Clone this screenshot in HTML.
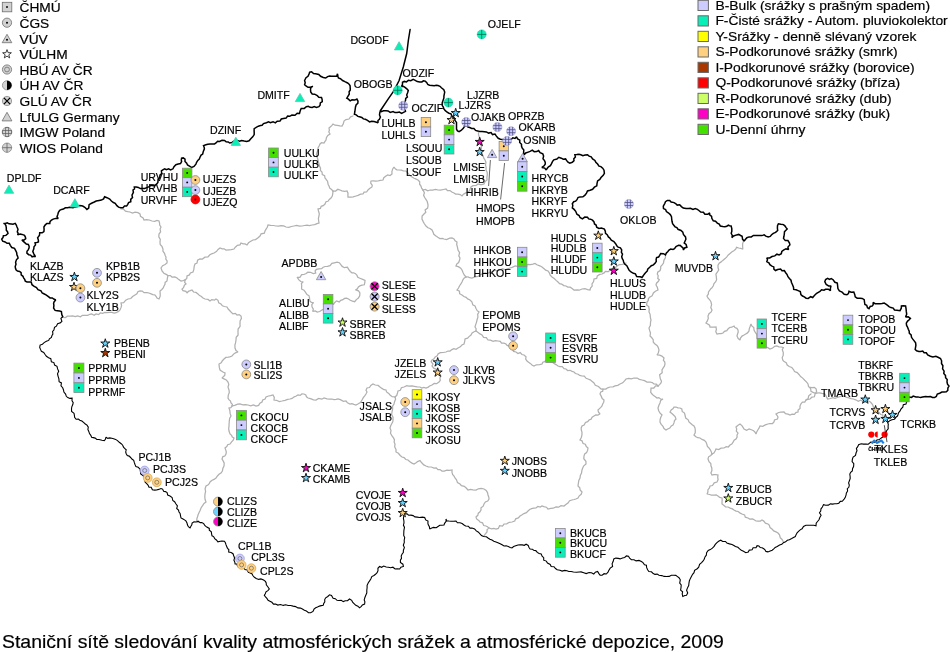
<!DOCTYPE html>
<html><head><meta charset="utf-8"><title>Staniční sítě</title>
<style>
html,body{margin:0;padding:0;background:#fff;}
svg{display:block}
text{font-family:"Liberation Sans",sans-serif;fill:#000;stroke:#000;stroke-width:0.18px;}
</style></head><body>
<svg width="950" height="652" viewBox="0 0 950 652" style="will-change:transform">
<rect width="950" height="652" fill="#fff"/>
<path d="M121.0,209.0 L123.4,209.1 L125.5,211.1 L127.6,211.7 L130.0,212.0 L132.4,213.1 L135.1,212.2 L138.0,212.7 L140.0,214.0 L140.5,216.4 L143.1,217.9 L144.0,220.0 L146.5,219.7 L149.3,220.0 L152.0,221.0 L154.7,221.3 L157.0,220.4 L159.0,221.0 L159.6,223.3 L159.7,225.0 L161.0,227.0 L160.1,229.0 L160.6,231.9 L159.0,234.0 L158.8,236.8 L160.3,239.5 L160.0,242.0 L160.2,244.5 L162.1,246.7 L163.0,249.0 L162.9,251.1 L164.5,253.3 L165.1,255.2 L166.0,257.0 L165.8,259.1 L167.1,261.0 L167.0,263.0 L165.1,264.5 L162.6,265.7 L161.0,268.0 L161.6,269.6 L162.0,271.0 L163.9,273.2 L165.7,274.1 L168.0,275.5" fill="none" stroke="#b0b0b0" stroke-width="1.25" stroke-linejoin="miter" stroke-miterlimit="1.6" stroke-linecap="round"/>
<path d="M168.0,275.5 L167.4,278.0 L167.0,281.0 L165.1,282.4 L165.0,284.4 L164.0,286.0 L163.2,287.9 L161.6,289.7 L160.0,291.0 L160.2,294.1 L160.2,296.2 L159.0,299.0 L157.0,298.1 L156.2,296.5 L155.0,295.0 L152.8,294.6 L151.1,293.9 L149.0,293.0 L146.9,292.7 L144.1,292.7 L142.2,291.1 L140.0,291.0 L137.9,291.7 L136.9,293.8 L135.0,295.0 L132.6,296.6 L130.8,298.5 L128.0,299.0 L125.7,300.2 L123.7,302.6 L121.0,303.0 L121.6,305.5 L121.1,307.4 L120.0,310.0 L118.5,311.4 L116.2,312.7 L114.0,313.0 L111.9,312.4 L109.5,312.4 L107.0,312.6 L105.0,312.5 L102.6,313.3 L100.3,312.9 L98.7,314.6 L96.0,314.0 L94.2,315.3 L91.5,313.9 L89.9,314.3 L87.7,315.4 L85.0,315.3 L82.4,315.3 L80.5,316.8 L77.5,315.8 L75.2,316.6 L72.7,316.0 L70.4,316.2 L67.3,316.2 L65.5,317.6 L62.7,317.5" fill="none" stroke="#b0b0b0" stroke-width="1.25" stroke-linejoin="miter" stroke-miterlimit="1.6" stroke-linecap="round"/>
<path d="M168.0,275.5 L170.3,275.6 L172.0,277.0 L174.8,276.9 L177.0,278.0 L178.8,279.6 L181.0,281.0 L183.1,280.7 L185.0,280.0" fill="none" stroke="#b0b0b0" stroke-width="1.25" stroke-linejoin="miter" stroke-miterlimit="1.6" stroke-linecap="round"/>
<path d="M185.0,280.0 L186.8,278.5 L187.0,276.0 L189.4,274.9 L190.4,273.0 L193.0,272.0 L193.8,269.7 L194.2,266.3 L195.0,264.0 L197.0,263.1 L197.6,260.2 L200.0,259.0 L202.4,259.1 L204.9,257.2 L208.0,257.0 L209.6,255.0 L211.6,253.8 L214.0,253.0 L216.4,251.6 L218.1,249.4 L220.0,248.0 L222.2,248.9 L224.1,248.8 L226.0,250.0 L229.0,249.8 L231.3,249.6 L234.0,249.0 L235.3,247.2 L237.4,245.3 L240.0,244.9 L241.0,243.0 L243.1,243.8 L245.1,243.9 L247.0,245.0 L248.5,242.8 L250.4,241.5 L253.0,240.0 L255.5,239.6 L258.1,237.8 L260.0,236.0 L261.1,233.8 L264.3,233.1 L265.0,231.0 L266.2,228.9 L267.3,227.3 L268.0,225.0 L270.7,225.4 L273.6,225.5 L276.0,226.0 L278.7,226.2 L281.0,225.6 L283.7,225.9 L286.0,227.0 L288.8,227.4 L291.4,226.5 L294.0,226.0 L296.6,225.5 L299.5,226.2 L302.0,226.0 L304.5,225.5 L307.0,225.2 L309.4,225.6 L312.0,225.0 L314.7,224.6 L317.0,223.6 L319.0,223.0 L318.6,220.4 L318.4,218.4 L319.0,216.0 L319.3,213.9 L318.5,211.0 L318.0,209.0 L320.4,208.4 L321.2,206.3 L323.2,205.6 L325.0,204.0 L326.0,201.7 L328.0,201.3 L329.3,199.5 L331.0,198.0 L332.3,196.0 L332.8,193.3 L333.0,191.0" fill="none" stroke="#b0b0b0" stroke-width="1.25" stroke-linejoin="miter" stroke-miterlimit="1.6" stroke-linecap="round"/>
<path d="M185.0,280.0 L184.7,282.4 L186.0,284.0 L184.4,285.2 L183.5,287.7 L182.0,289.0 L183.0,290.6 L185.9,291.3 L187.0,293.0 L188.4,291.3 L190.2,290.7 L192.0,290.0 L193.6,292.0 L196.0,292.4 L198.0,294.0 L199.6,295.6 L201.4,296.5 L203.0,298.0 L205.1,299.0 L208.0,299.4 L210.0,301.0 L211.8,299.6 L214.4,300.2 L216.0,299.0 L218.0,300.3 L218.7,302.9 L221.0,304.0 L222.4,305.8 L224.4,306.5 L227.0,307.0 L228.2,309.0 L229.6,310.5 L231.0,312.0 L232.9,313.9 L235.3,313.4 L237.0,315.0 L239.2,314.6 L241.0,316.0 L241.4,318.5 L240.1,321.0 L240.0,324.0 L240.1,326.4 L238.1,329.0 L238.0,332.0 L238.1,335.0 L236.2,337.3 L236.0,340.0 L235.6,342.7 L234.9,345.1 L235.0,348.0 L236.0,350.5 L238.0,352.0 L235.4,352.9 L233.6,354.1 L232.0,356.0 L229.8,356.8 L228.2,357.2 L225.9,357.4 L224.0,359.0 L222.4,360.7 L221.2,362.9 L219.0,364.0 L219.2,366.2 L219.4,367.9 L220.0,370.0 L221.8,371.2 L223.4,372.3 L225.0,373.0 L224.8,375.3 L223.6,376.5 L222.0,378.0 L224.0,378.9 L226.3,379.9 L228.0,382.0 L228.8,384.4 L228.0,387.1 L229.0,390.0 L229.3,392.4 L228.3,395.1 L228.0,398.0 L228.9,399.6 L230.5,401.0 L231.0,403.0 L232.4,404.4 L232.0,406.0" fill="none" stroke="#b0b0b0" stroke-width="1.25" stroke-linejoin="miter" stroke-miterlimit="1.6" stroke-linecap="round"/>
<path d="M353.0,116.0 L350.6,116.8 L349.0,119.0 L345.9,119.6 L344.0,121.0 L343.3,123.8 L342.0,126.0 L339.9,125.9 L337.3,125.3 L335.0,125.2 L333.0,124.0 L332.0,125.4 L330.5,126.7 L329.0,128.0 L329.4,130.2 L328.8,132.0 L330.0,134.0 L327.8,135.5 L326.4,137.7 L326.0,140.0 L325.0,141.4 L324.0,143.0 L321.5,142.7 L320.0,144.0 L319.2,145.7 L318.0,148.0 L318.0,150.0 L316.9,152.6 L316.4,154.7 L317.0,157.0 L317.9,159.3 L318.4,161.9 L319.0,164.0 L319.6,166.3 L320.5,168.1 L320.4,170.5 L322.0,172.0 L322.3,174.5 L324.6,175.6 L325.0,178.0 L326.3,179.7 L327.6,181.4 L328.1,184.2 L329.0,186.0 L329.9,188.4 L331.3,189.2 L333.0,191.0" fill="none" stroke="#b0b0b0" stroke-width="1.25" stroke-linejoin="miter" stroke-miterlimit="1.6" stroke-linecap="round"/>
<path d="M333.0,191.0 L335.7,191.0 L337.8,189.3 L340.0,190.0 L341.9,190.9 L344.8,191.3 L347.0,191.0 L348.0,193.2 L347.9,194.9 L348.0,197.0 L350.9,197.0 L353.2,196.8 L356.0,196.0 L358.1,195.4 L360.5,194.2 L363.0,194.0 L364.1,192.1 L366.6,192.0 L368.0,190.0 L369.6,188.6 L372.0,187.0 L372.2,185.2 L370.7,183.0 L371.0,181.0 L373.4,180.9 L375.7,181.2 L378.0,181.0 L380.2,180.4 L383.0,180.0 L383.8,177.7 L386.0,176.0 L387.7,174.9 L390.1,175.5 L392.0,174.0 L391.9,171.6 L392.7,168.9 L394.0,167.0 L395.3,168.9 L396.9,169.8 L399.0,170.0 L401.3,170.2 L403.4,170.9 L406.0,171.0 L407.4,172.5 L408.9,174.4 L410.1,175.6 L412.0,177.0 L414.1,178.2 L415.7,178.9 L418.0,180.0 L419.7,181.7 L419.6,184.2 L421.0,186.0 L421.6,188.2 L423.0,190.0" fill="none" stroke="#b0b0b0" stroke-width="1.25" stroke-linejoin="miter" stroke-miterlimit="1.6" stroke-linecap="round"/>
<path d="M423.0,190.0 L425.4,189.5 L427.8,190.9 L430.0,190.0 L432.5,190.0 L435.7,189.3 L438.0,190.0 L440.5,190.2 L443.5,189.5 L446.0,189.0 L447.5,190.7 L450.0,190.6 L452.2,192.3 L454.0,193.0 L455.6,194.1 L457.8,194.2 L460.2,194.6 L462.0,196.0 L463.5,194.2 L465.7,192.9 L468.0,192.0 L469.5,190.8 L470.2,188.8 L471.0,187.0 L473.0,185.7 L476.1,185.4 L478.0,184.0 L480.2,184.5 L481.9,184.5 L484.0,184.0 L485.1,181.6 L487.0,180.0 L486.9,177.3 L487.3,174.7 L487.2,172.3 L486.0,170.0 L486.1,167.2 L485.5,164.8 L486.0,162.4 L485.0,160.0 L483.8,158.2 L483.2,155.9 L482.0,154.0 L481.5,151.6 L481.4,148.8 L481.3,146.0 L480.0,144.0 L478.7,141.9 L479.9,139.4 L479.4,137.3 L478.5,134.7 L478.5,132.6" fill="none" stroke="#b0b0b0" stroke-width="1.25" stroke-linejoin="miter" stroke-miterlimit="1.6" stroke-linecap="round"/>
<path d="M423.0,190.0 L424.4,192.7 L423.6,195.4 L425.0,198.0 L426.1,199.7 L427.2,201.5 L427.9,204.0 L428.0,206.0 L427.6,208.1 L425.1,209.9 L425.8,212.2 L424.0,214.0 L422.1,216.1 L422.0,219.0 L423.2,221.6 L424.2,223.5 L426.0,226.0 L427.9,227.8 L430.0,228.5 L432.0,230.0 L433.2,232.5 L433.8,234.3 L436.0,236.0 L437.8,237.2 L439.9,238.5 L442.3,238.3 L444.0,239.0 L446.5,239.5 L449.7,238.1 L452.0,238.0 L454.0,238.9 L455.1,240.8 L457.0,242.0 L456.7,244.5 L457.5,247.4 L458.0,250.0 L459.6,252.7 L458.8,255.8 L460.0,258.0 L459.5,260.3 L458.6,262.5 L456.7,264.1 L456.0,266.0 L458.3,266.6 L460.7,268.1 L462.0,270.0 L462.9,272.2 L464.2,274.9 L466.0,277.0" fill="none" stroke="#b0b0b0" stroke-width="1.25" stroke-linejoin="miter" stroke-miterlimit="1.6" stroke-linecap="round"/>
<path d="M466.0,277.0 L468.0,276.9 L469.7,277.7 L472.0,278.0 L474.3,277.2 L476.1,276.6 L478.2,276.3 L480.0,275.0 L482.6,273.7 L485.1,272.8 L487.8,273.5 L490.0,272.0 L492.2,271.6 L495.1,270.3 L497.7,270.9 L500.0,270.0 L502.5,268.8 L505.5,269.9 L507.5,268.8 L510.0,268.0 L512.2,267.4 L515.2,266.0 L517.4,266.3 L520.0,266.0 L523.0,265.4 L525.6,265.8 L528.0,264.5 L530.4,264.7 L532.9,264.1 L535.0,263.5 L536.9,264.8 L539.8,265.8 L542.0,267.0 L544.1,268.8 L545.6,270.1 L548.0,271.0 L549.5,273.1 L550.2,275.2 L552.0,277.0 L554.2,278.6 L556.1,280.4 L558.0,282.0 L559.6,283.6 L561.7,284.1 L563.8,285.6 L566.0,286.0 L567.8,287.1 L570.2,287.2 L572.4,288.7 L574.0,290.0 L577.0,289.8 L579.3,290.2 L582.0,289.0 L584.9,288.7 L587.6,289.6 L590.0,290.0 L590.5,288.1 L592.2,286.1 L592.0,284.0 L593.6,281.6 L594.0,279.0 L596.7,278.4 L597.3,275.9 L599.7,274.4 L602.0,274.0 L604.1,272.9 L605.4,271.4 L608.4,271.6 L610.0,270.0 L611.5,268.5 L614.5,268.4 L616.0,267.0 L618.0,265.3 L619.6,264.7 L622.0,264.5 L624.3,263.9 L626.0,263.0" fill="none" stroke="#b0b0b0" stroke-width="1.25" stroke-linejoin="miter" stroke-miterlimit="1.6" stroke-linecap="round"/>
<path d="M466.0,277.0 L464.0,278.1 L462.9,279.8 L462.0,282.0 L460.9,283.9 L459.6,285.7 L458.5,288.0 L457.0,290.0 L459.5,291.2 L459.6,293.7 L462.0,295.0 L463.9,296.5 L466.1,297.4 L467.7,298.9 L470.0,300.0 L471.9,301.8 L472.8,304.9 L475.0,306.0 L475.9,308.3 L477.2,310.7 L479.0,312.0 L477.7,314.2 L477.9,317.2 L477.0,320.0 L476.4,322.6 L475.7,324.6 L475.0,327.0 L476.1,328.6 L476.0,331.0" fill="none" stroke="#b0b0b0" stroke-width="1.25" stroke-linejoin="miter" stroke-miterlimit="1.6" stroke-linecap="round"/>
<path d="M476.0,331.0 L474.1,331.7 L472.1,333.0 L471.0,335.0 L469.0,336.6 L467.6,338.1 L465.0,339.0 L464.7,341.3 L464.0,344.0 L461.9,345.0 L460.3,346.8 L458.0,348.0 L456.1,349.3 L453.8,348.7 L451.9,349.6 L450.0,351.0 L448.0,351.0 L446.0,352.0 L443.4,352.5 L440.3,352.7 L438.0,354.0 L437.2,355.9 L435.2,356.9 L433.7,359.1 L432.0,360.0 L431.1,361.7 L433.0,364.1 L432.0,366.0 L433.7,368.2 L435.9,369.1 L438.0,370.0 L439.0,372.0 L439.2,374.1 L441.0,376.0 L439.9,378.0 L440.3,380.4 L439.0,382.0 L436.6,383.7 L434.2,383.5 L432.0,385.0 L429.6,386.0 L428.3,387.1 L426.0,388.0 L423.8,387.3 L421.7,388.0 L420.0,387.0 L417.2,386.9 L414.3,386.3 L412.0,386.0 L408.9,386.2 L406.8,385.7 L404.0,387.0 L401.4,387.7 L400.3,390.3 L398.0,391.0 L397.5,392.9 L396.8,395.3 L395.0,397.0" fill="none" stroke="#b0b0b0" stroke-width="1.25" stroke-linejoin="miter" stroke-miterlimit="1.6" stroke-linecap="round"/>
<path d="M476.0,331.0 L478.1,332.4 L480.0,333.9 L482.0,335.0 L483.6,337.4 L486.3,337.7 L488.0,340.0 L490.4,340.2 L493.1,341.4 L495.4,340.7 L498.0,341.0 L500.3,341.3 L501.5,343.2 L503.9,343.1 L506.0,344.0 L507.1,345.4 L509.4,346.1 L510.0,348.0 L512.3,349.1 L513.6,351.4 L516.0,352.0 L517.9,353.6 L520.2,352.6 L521.9,354.5 L524.0,355.0 L526.0,356.7 L525.7,359.1 L527.0,361.0 L528.6,362.2 L530.3,363.4 L532.3,365.2 L534.0,366.0 L536.3,364.8 L539.7,364.7 L542.0,364.0 L542.8,362.2 L544.7,361.6 L546.0,360.0 L548.4,359.9 L550.0,361.6 L552.0,362.0 L553.7,363.3 L556.0,364.6 L558.0,366.0 L559.8,366.7 L562.3,366.7 L564.0,368.7 L566.0,369.0 L567.6,370.5 L570.0,370.3 L572.1,371.3 L574.0,372.0 L575.4,373.5 L578.1,374.2 L579.7,375.4 L582.0,376.0 L584.3,376.2 L586.1,378.3 L588.0,379.0 L590.2,379.8 L591.9,381.3 L594.0,383.0 L595.3,385.3 L598.4,386.5 L600.0,388.0 L601.2,389.0 L603.0,389.0 L605.8,389.1 L607.7,387.8 L610.0,387.0 L613.0,386.8 L615.0,385.9 L617.8,385.4 L620.0,384.0 L622.7,382.8 L624.5,380.8 L626.0,379.0 L628.7,378.5 L631.3,378.8 L634.0,378.0 L637.1,378.0 L639.3,379.4 L642.0,380.0 L644.5,380.7 L647.0,382.0 L650.0,382.0 L652.3,382.6 L653.9,383.9 L656.3,384.2 L658.0,386.0" fill="none" stroke="#b0b0b0" stroke-width="1.25" stroke-linejoin="miter" stroke-miterlimit="1.6" stroke-linecap="round"/>
<path d="M603.0,389.0 L602.7,391.3 L600.8,391.9 L600.0,394.0 L601.1,395.9 L602.2,398.6 L604.0,400.0 L603.7,402.2 L602.7,403.9 L602.0,406.0 L600.8,407.4 L599.2,408.9 L598.0,410.0 L598.4,411.9 L600.0,414.0 L597.8,415.0 L595.8,414.9 L594.0,416.0 L592.1,417.2 L591.1,419.2 L589.0,420.0 L587.7,421.7 L585.5,422.5 L584.1,425.1 L582.0,426.0 L581.2,427.9 L581.3,430.2 L582.0,432.0 L581.9,435.2 L581.3,437.5 L580.0,440.0 L582.0,440.8 L583.1,443.6 L585.3,444.2 L586.3,446.6 L588.0,448.0 L587.6,450.4 L586.6,452.6 L584.7,453.9 L584.0,456.0 L583.8,458.7 L585.9,461.3 L586.0,464.0 L583.8,465.8 L582.8,467.7 L582.0,470.0 L581.5,473.0 L580.3,475.6 L580.0,478.0 L578.8,480.5 L578.4,483.0 L578.0,486.0 L579.8,487.9 L580.1,489.9 L582.0,492.0 L581.2,494.3 L579.3,495.8 L578.0,498.0 L575.8,499.0 L574.1,499.5 L572.0,500.0 L569.6,500.7 L568.0,503.0 L566.2,504.3 L564.0,506.0 L561.0,505.7 L558.6,507.2 L556.0,507.0 L553.2,508.2 L550.8,508.3 L548.0,509.0 L546.4,507.2 L543.8,506.7 L542.0,506.0 L540.2,507.1 L537.8,506.5 L536.0,508.0 L533.7,508.1 L531.6,508.7 L529.7,509.5 L528.0,511.0 L526.4,512.7 L523.9,513.6 L522.1,514.8 L520.0,516.0 L518.3,517.9 L515.7,518.8 L514.7,521.1 L512.0,522.0 L509.3,522.3 L506.7,523.8 L504.0,524.0 L502.5,526.0 L499.6,525.7 L498.3,528.4 L496.0,529.0 L493.8,528.5 L491.6,528.9 L489.0,528.0" fill="none" stroke="#b0b0b0" stroke-width="1.25" stroke-linejoin="miter" stroke-miterlimit="1.6" stroke-linecap="round"/>
<path d="M665.5,255.6 L665.4,257.9 L663.9,260.3 L663.5,263.1 L662.4,264.7 L660.7,266.5 L660.7,268.7 L660.1,270.5 L657.7,272.2 L657.3,274.2 L658.2,275.7 L657.8,278.4 L659.3,279.7 L658.4,281.3 L656.5,283.2 L656.0,285.0 L657.3,287.3 L658.0,290.0 L655.4,291.3 L653.4,292.9 L652.1,295.9 L650.0,297.0 L648.4,298.5 L648.3,300.4 L647.0,302.0 L646.6,305.0 L648.7,306.5 L649.2,309.5 L649.0,312.0 L650.1,314.3 L650.4,317.7 L651.0,320.0 L650.5,322.3 L650.4,325.3 L649.0,328.0 L649.6,330.4 L650.5,333.1 L650.0,336.0 L651.6,337.5 L653.2,339.6 L653.3,342.2 L655.0,344.0 L657.0,345.5 L658.2,347.3 L659.0,350.0 L658.3,353.0 L657.0,355.0 L659.7,355.2 L661.9,356.1 L664.0,358.0 L663.4,360.4 L664.7,361.8 L665.0,364.0 L664.4,366.2 L663.2,367.9 L662.0,370.0 L662.2,372.8 L659.6,374.7 L660.0,377.0 L660.3,378.9 L661.5,381.2 L661.0,383.0 L659.8,384.4 L658.0,386.0" fill="none" stroke="#b0b0b0" stroke-width="1.25" stroke-linejoin="miter" stroke-miterlimit="1.6" stroke-linecap="round"/>
<path d="M658.0,386.0 L655.7,385.8 L653.8,388.0 L651.0,388.0 L650.9,390.3 L650.7,392.3 L652.0,394.0 L653.6,395.6 L655.4,396.7 L657.0,398.0 L658.8,397.6 L661.1,399.4 L663.0,399.0 L660.6,400.6 L660.0,403.0 L658.9,405.2 L658.0,408.0 L658.7,410.7 L660.1,413.2 L662.0,415.0 L660.8,417.3 L660.1,419.5 L660.0,422.0 L661.2,424.3 L663.0,426.4 L664.0,428.6 L666.0,430.0 L667.7,429.0 L669.8,428.1 L671.3,425.9 L673.0,425.0 L674.0,422.9 L674.5,420.6 L676.0,419.0 L675.1,416.6 L673.5,415.0 L671.9,413.5 L670.0,412.0 L671.2,409.9 L673.1,408.6 L674.0,407.0 L675.9,407.0 L678.0,407.8 L680.0,408.0 L681.8,409.0 L682.2,411.4 L684.5,413.1 L685.0,415.0 L685.7,418.1 L688.2,419.8 L689.0,422.0 L690.8,423.5 L692.5,424.9 L693.8,425.8 L695.0,428.0 L695.3,430.5 L695.2,432.9 L694.0,435.0 L695.9,436.7 L697.8,437.7 L700.0,438.0 L702.0,439.4 L704.3,440.3 L706.0,442.0 L706.8,444.1 L707.4,446.5 L709.0,448.0 L710.5,450.1 L711.3,451.9 L712.0,454.0" fill="none" stroke="#b0b0b0" stroke-width="1.25" stroke-linejoin="miter" stroke-miterlimit="1.6" stroke-linecap="round"/>
<path d="M743.5,241.1 L742.6,243.9 L742.6,246.1 L742.8,249.3 L740.7,248.3 L738.7,248.0 L736.6,247.3 L735.6,249.3 L733.8,250.7 L731.7,252.1 L730.1,253.4 L728.3,254.9 L726.6,257.1 L725.1,258.6 L722.8,260.4 L721.1,261.9 L719.2,263.1 L718.0,265.2 L718.0,267.6 L718.7,270.0 L717.5,271.8 L715.9,274.2 L716.3,276.7 L716.6,279.7 L715.7,281.7 L714.0,283.5 L713.3,285.8 L712.0,287.8 L710.8,288.7 L710.0,290.0 L708.5,291.9 L708.3,294.2 L707.0,296.0 L707.9,297.9 L709.7,299.8 L711.0,302.0 L711.6,304.6 L710.8,307.6 L712.0,310.0 L711.2,311.9 L709.0,313.7 L708.0,316.0 L708.3,318.4 L707.2,321.2 L706.0,323.0 L707.7,324.0 L709.5,325.2 L710.0,327.0 L711.7,327.0 L714.2,327.2 L716.0,327.0 L716.4,329.4 L715.8,331.7 L717.0,334.0 L719.2,333.7 L721.1,333.7 L723.0,333.0 L724.5,331.4 L726.8,330.7 L728.0,329.0 L729.6,327.5 L731.8,327.2 L734.0,326.0 L734.9,327.6 L736.9,328.3 L738.0,330.0 L738.2,332.3 L737.6,333.8 L737.0,336.0 L738.2,338.5 L740.0,340.0 L740.5,338.0 L742.0,336.1 L744.0,335.0 L745.7,334.0 L747.5,332.9 L749.0,331.0 L749.3,328.6 L750.2,326.3 L751.0,324.0 L751.8,325.9 L753.8,327.5 L754.0,330.0 L755.0,331.9 L756.4,333.9 L756.9,335.5 L757.0,338.0 L758.4,339.7 L760.3,341.2 L760.9,343.3 L762.0,345.0 L764.0,345.9 L766.0,346.8 L768.2,347.9 L770.0,349.0 L772.6,348.0 L774.7,346.3 L776.8,345.9 L778.9,346.9 L781.4,347.0 L783.4,347.6 L782.3,349.7 L783.3,352.6 L783.2,355.4 L782.2,357.6 L782.8,360.2 L784.1,361.6 L786.2,362.7 L787.2,365.1 L789.2,366.5 L791.8,367.5 L793.5,369.5 L794.5,371.5 L797.2,372.6 L799.2,374.7 L800.6,376.6 L802.7,378.1 L804.7,380.2 L806.4,381.8 L808.0,383.9 L808.5,386.4 L810.6,388.5 L811.0,391.4 L813.1,392.4 L814.8,393.0 L817.0,393.0" fill="none" stroke="#b0b0b0" stroke-width="1.25" stroke-linejoin="miter" stroke-miterlimit="1.6" stroke-linecap="round"/>
<path d="M817.0,393.0 L819.4,392.8 L821.9,393.4 L824.7,393.9 L825.7,395.3 L826.7,397.4 L827.7,399.1 L830.4,398.5 L832.9,397.6 L835.1,398.3 L837.3,397.5 L839.8,396.6 L842.4,396.1 L844.7,395.7 L846.3,397.4 L848.3,397.6 L851.0,398.7 L853.3,399.0 L855.7,399.8 L858.3,401.2 L860.5,400.1 L863.1,401.3 L865.5,402.3 L867.8,400.8 L870.4,402.0 L871.7,403.5 L872.8,405.1 L873.4,407.2 L875.8,408.9 L877.8,410.1 L879.1,412.8 L880.7,414.5 L882.7,414.9 L883.2,417.6 L885.2,418.2 L886.5,419.7 L887.4,421.9" fill="none" stroke="#b0b0b0" stroke-width="1.25" stroke-linejoin="miter" stroke-miterlimit="1.6" stroke-linecap="round"/>
<path d="M810.0,387.3 L812.0,387.7 L814.4,387.3 L816.2,389.1 L816.6,391.7 L815.1,393.9 L814.4,396.8 L811.8,397.2 L810.0,399.0 L807.9,399.5 L806.0,400.0" fill="none" stroke="#b0b0b0" stroke-width="1.25" stroke-linejoin="miter" stroke-miterlimit="1.6" stroke-linecap="round"/>
<path d="M712.0,454.0 L713.9,453.0 L715.1,451.0 L716.0,449.0 L718.8,449.6 L721.0,448.2 L724.0,448.0 L726.2,446.7 L728.3,447.0 L730.0,445.0 L731.8,444.1 L733.1,442.2 L734.1,440.2 L736.0,439.0 L737.1,437.0 L737.0,435.1 L738.0,433.0 L736.3,431.1 L736.7,429.0 L736.0,427.0 L737.7,425.5 L740.0,424.0 L741.9,425.6 L742.9,427.2 L744.0,429.0 L746.6,430.2 L749.1,429.0 L752.0,430.0 L753.6,430.7 L755.0,432.1 L756.0,434.0 L756.7,431.9 L757.8,430.0 L759.0,428.2 L760.0,426.0 L762.7,426.3 L765.3,424.9 L768.0,424.0 L769.7,423.5 L772.5,423.5 L774.0,422.0 L774.5,419.9 L777.4,419.1 L778.0,417.0 L777.0,415.3 L776.0,414.0 L778.7,412.5 L781.0,412.1 L784.0,412.0 L785.5,413.7 L788.0,414.1 L790.0,415.0 L792.1,414.1 L794.4,414.3 L796.1,412.4 L798.0,412.0 L798.1,410.1 L800.0,408.4 L800.0,406.0 L801.0,403.8 L802.4,402.2 L804.8,402.1 L806.0,400.0 L808.2,398.4 L808.7,395.8 L811.0,394.0" fill="none" stroke="#b0b0b0" stroke-width="1.25" stroke-linejoin="miter" stroke-miterlimit="1.6" stroke-linecap="round"/>
<path d="M712.0,454.0 L710.8,455.5 L708.6,456.8 L708.0,459.0 L709.0,461.7 L710.8,463.5 L711.0,466.0 L711.8,468.0 L711.9,470.6 L710.9,473.0 L712.0,475.0 L713.8,474.6 L715.8,474.6 L718.0,475.0 L717.7,477.3 L718.1,479.6 L717.0,482.0 L714.2,482.8 L712.5,485.5 L710.0,486.0 L709.4,488.0 L707.9,489.9 L707.9,492.0 L707.0,494.0 L709.6,494.5 L711.3,495.0 L714.0,495.0 L716.2,494.8 L718.3,496.2 L719.7,497.4 L722.0,498.0 L722.2,500.0 L722.0,501.9 L722.0,504.0 L723.7,505.3 L725.5,506.8 L728.0,507.0 L730.2,508.1 L732.4,508.9 L734.0,510.0 L736.0,511.1 L738.1,511.5 L740.2,513.1 L742.0,514.0 L744.6,514.9 L745.3,517.2 L748.0,518.0 L749.7,519.0 L752.6,518.9 L754.1,519.8 L756.0,521.0 L758.1,521.1 L760.4,521.1 L762.0,520.0 L763.8,521.1 L765.4,523.1 L768.0,524.0 L769.4,525.4 L770.0,527.6 L772.0,529.0 L773.7,530.9 L776.0,531.9 L778.0,533.0 L779.5,534.9 L780.3,537.8 L782.1,539.5 L783.4,542.0" fill="none" stroke="#b0b0b0" stroke-width="1.25" stroke-linejoin="miter" stroke-miterlimit="1.6" stroke-linecap="round"/>
<path d="M232.0,406.0 L230.9,407.7 L229.0,408.0 L229.9,410.9 L230.1,413.4 L231.0,416.0 L229.7,418.2 L229.3,420.8 L229.1,423.8 L229.0,426.0 L228.7,428.8 L229.0,431.0 L230.0,434.0 L231.6,435.4 L232.3,437.0 L234.0,438.0 L233.2,440.2 L231.6,441.8 L230.0,444.0 L227.7,444.7 L226.8,446.5 L225.0,448.0 L225.7,449.9 L226.3,451.8 L226.0,454.0 L224.8,456.0 L222.9,456.6 L222.0,459.0 L223.4,461.4 L224.2,463.2 L224.0,466.0 L222.9,468.3 L222.4,471.1 L221.0,473.0 L219.3,474.1 L217.4,476.0 L216.0,478.0 L214.0,479.4 L211.7,480.5 L210.0,482.0 L209.2,483.7 L207.9,485.0 L206.0,486.0 L205.1,488.9 L205.6,491.5 L205.0,494.0 L204.8,497.0 L205.1,499.5 L206.0,502.0 L204.0,503.5 L202.6,505.7 L201.0,508.0 L200.2,510.3 L199.2,512.3 L198.0,515.0 L197.6,516.6 L197.0,518.2 L196.7,520.7 L198.0,522.5" fill="none" stroke="#b0b0b0" stroke-width="1.25" stroke-linejoin="miter" stroke-miterlimit="1.6" stroke-linecap="round"/>
<path d="M232.0,406.0 L234.7,405.3 L237.6,404.2 L240.0,404.0 L242.8,404.8 L245.6,404.6 L248.0,405.0 L250.7,405.8 L253.4,404.9 L256.0,406.0 L258.6,405.4 L259.9,403.1 L262.0,402.0 L262.7,400.0 L265.1,399.0 L266.0,397.0 L268.6,396.0 L270.6,395.7 L273.0,395.0 L274.3,397.4 L274.0,400.0 L276.5,400.3 L279.3,401.5 L282.0,401.0 L285.0,400.3 L287.7,399.4 L290.0,399.0 L292.1,398.4 L294.2,396.8 L295.8,396.3 L298.0,395.0 L300.1,395.4 L301.9,393.9 L304.0,394.0 L305.8,395.0 L306.5,396.8 L308.0,398.0 L310.5,398.6 L313.5,399.8 L316.0,400.0 L318.6,398.4 L321.9,399.2 L324.0,398.0 L327.0,398.9 L329.6,399.0 L332.0,399.0 L333.9,399.5 L336.1,399.4 L338.0,399.0 L340.4,399.7 L343.4,401.3 L346.0,401.0 L347.5,402.8 L350.0,404.0 L351.9,403.6 L353.9,404.4 L356.0,405.0 L358.3,403.8 L360.4,402.6 L362.0,400.0 L363.3,397.7 L364.7,395.9 L366.0,394.0 L367.0,392.0 L366.0,390.2 L367.0,388.0 L369.5,387.5 L370.8,385.5 L373.0,384.0 L375.2,385.0 L378.1,385.4 L380.0,387.0 L381.9,388.4 L384.0,389.7 L386.0,390.0 L386.6,391.9 L388.7,393.4 L390.0,395.0 L392.2,396.7 L395.0,397.0" fill="none" stroke="#b0b0b0" stroke-width="1.25" stroke-linejoin="miter" stroke-miterlimit="1.6" stroke-linecap="round"/>
<path d="M395.0,397.0 L395.6,399.2 L394.6,401.4 L394.0,404.0 L392.6,406.1 L392.6,409.2 L392.0,412.0 L391.6,414.5 L393.0,417.2 L393.0,420.0 L392.8,421.9 L391.7,423.8 L390.7,425.7 L390.0,428.0 L391.0,430.5 L390.5,433.2 L392.0,436.0 L393.5,437.9 L394.5,439.9 L394.1,441.9 L395.0,444.0 L394.7,447.0 L396.0,449.5 L396.0,452.0 L398.4,453.3 L400.2,455.5 L402.0,457.0 L404.1,457.6 L405.8,459.5 L408.0,460.0 L409.9,461.7 L412.0,463.1 L414.0,464.0 L416.1,462.8 L417.6,461.6 L420.0,460.5 L421.5,462.5 L423.8,464.9 L426.0,466.0 L428.3,466.9 L431.3,467.0 L434.0,468.0 L436.3,467.9 L437.9,469.6 L440.0,469.6 L442.0,471.0 L444.2,471.0 L446.8,470.2 L449.7,470.3 L452.0,470.0 L452.0,472.4 L452.7,474.6 L453.9,475.9 L455.0,478.0 L456.5,479.8 L457.5,482.6 L460.0,484.0 L461.4,485.7 L464.3,486.3 L466.2,488.0 L468.0,490.0 L470.6,489.5 L473.0,489.8 L476.0,490.0 L478.4,488.8 L481.2,488.5 L484.0,489.0 L486.2,490.5 L487.5,492.6 L488.0,495.0 L488.8,497.2 L489.0,499.0 L487.7,501.0 L485.4,501.9 L484.0,504.0 L483.2,506.2 L481.0,507.8 L481.0,510.0 L479.8,512.0 L478.3,513.2 L477.8,515.3 L476.0,517.0 L476.6,518.9 L478.7,520.4 L480.0,522.0 L482.5,522.8 L483.7,525.5 L486.0,526.0 L487.5,526.7 L489.0,528.0 L487.1,529.6 L487.0,532.0 L485.2,534.0 L484.0,536.0" fill="none" stroke="#b0b0b0" stroke-width="1.25" stroke-linejoin="miter" stroke-miterlimit="1.6" stroke-linecap="round"/>
<path d="M297.3,277.4 L299.9,277.3 L301.7,274.7 L303.9,274.5 L306.2,273.5 L307.8,272.2 L310.5,272.3 L313.2,273.6 L315.7,273.0 L315.1,271.0 L316.4,269.3 L318.8,268.8 L321.6,268.6 L323.2,267.2 L325.1,266.5 L327.5,266.4 L330.0,265.6 L331.9,263.4 L334.3,262.8 L337.1,262.1 L339.3,262.7 L340.8,264.7 L342.2,266.4 L344.4,267.7 L347.4,267.1 L348.7,269.4 L350.3,271.5 L351.9,272.8 L353.6,272.8 L355.5,273.7 L357.0,275.4 L357.8,277.3 L359.9,278.2 L362.7,279.4 L365.0,280.4 L364.8,282.6 L364.3,284.8 L361.9,285.2 L359.9,285.9 L358.4,287.0 L357.4,288.9 L355.5,289.9 L358.5,290.9 L359.9,292.9 L359.7,295.7 L358.4,298.1 L356.3,299.6 L354.7,301.7 L352.5,301.1 L350.3,300.3 L348.5,299.0 L346.6,298.1 L344.5,298.4 L342.9,299.7 L340.7,300.3 L339.2,301.9 L336.5,300.9 L334.8,302.5 L333.6,304.2 L331.2,304.6 L330.0,306.0 L328.1,307.2 L326.3,308.8 L324.5,308.9 L322.3,309.8 L319.7,311.5 L317.2,312.0 L315.3,310.9 L312.7,311.3 L313.3,309.1 L312.0,306.9 L311.8,304.7 L313.5,302.5 L311.3,302.3 L309.8,301.0 L309.5,298.1 L309.1,295.8 L307.0,294.6 L305.4,292.2 L304.0,290.2 L301.7,289.2 L301.6,287.2 L301.7,285.5 L301.4,283.5 L303.2,281.8 L300.7,281.5 L298.7,279.6 L297.3,277.4" fill="none" stroke="#b0b0b0" stroke-width="1.25" stroke-linejoin="miter" stroke-miterlimit="1.6" stroke-linecap="round"/>
<path d="M909.0,397.0 L908.5,399.1 L908.0,400.8 L906.5,402.0 L906.0,404.1 L903.3,404.7 L902.8,407.2 L901.1,408.9 L899.9,411.1 L898.4,413.0 L897.9,415.0 L897.2,416.3 L895.5,417.5 L894.4,419.2 L891.9,419.7 L890.3,420.4 L889.1,421.3 L887.4,421.9 L888.3,424.3 L888.1,426.3 L888.2,428.9 L886.6,430.7 L885.7,433.2 L884.4,435.2 L882.8,437.0 L880.9,438.2 L879.3,439.6 L876.9,439.9 L875.9,442.0 L873.4,442.5 L870.8,442.1 L868.3,444.2 L866.0,444.0 L863.3,444.1 L861.2,443.7 L858.6,444.7 L857.6,446.9 L856.4,448.4 L857.0,450.8 L856.1,452.8 L855.5,455.4 L853.1,457.1 L852.4,459.1 L852.1,461.7 L853.8,463.7 L853.6,466.6 L852.6,468.5 L852.3,471.0 L850.7,472.3 L849.8,474.1 L850.1,476.2 L850.2,478.5 L849.4,480.7 L848.6,482.9 L849.3,485.0 L848.8,487.3 L847.3,488.6 L847.6,490.9 L846.3,493.2 L846.1,495.0 L845.2,497.6 L844.1,499.1 L842.3,501.3 L840.3,501.4 L838.8,503.2 L836.9,503.7 L834.8,503.8 L832.6,504.1 L830.4,503.9 L828.4,505.1 L825.8,505.2 L823.5,504.6 L822.4,507.0 L821.0,508.8 L820.7,511.1 L819.5,512.8 L821.1,515.3 L819.8,517.6 L819.0,519.8 L817.5,521.5 L816.2,523.1 L816.0,525.9 L813.7,525.3 L811.3,525.3 L808.3,525.3 L805.9,525.3 L803.5,526.4 L802.1,528.8 L800.5,529.6 L798.5,531.4 L797.1,532.8 L796.2,534.4 L795.3,536.6 L793.5,537.6 L791.7,538.6 L789.4,539.8 L787.3,540.3 L785.6,541.8 L783.4,542.7 L781.8,544.3 L779.6,545.1 L777.2,546.4 L775.2,547.4 L774.0,548.6 L772.2,550.2 L770.2,550.9 L767.9,551.9 L765.9,551.4 L765.0,549.8 L763.8,548.8 L762.1,547.7 L760.2,547.5 L758.9,545.9 L757.1,545.7 L756.0,547.8 L753.1,547.8 L752.1,549.7 L749.3,550.1 L748.3,552.1 L745.8,552.7 L743.5,551.2 L741.3,550.2 L739.6,548.9 L737.9,547.3 L735.4,546.5 L733.9,545.5 L732.0,544.4 L729.5,543.9 L726.9,543.1 L725.5,541.5 L722.7,541.5 L720.8,540.2 L718.6,541.3 L716.7,542.8 L715.3,544.4 L714.1,546.4 L712.4,548.2 L710.3,549.6 L708.2,550.5 L706.6,552.7 L706.3,555.2 L705.0,556.9 L704.2,559.2 L703.1,560.8 L701.6,562.7 L699.6,564.3 L698.7,567.2 L697.2,568.7 L694.6,570.3 L694.0,572.7 L692.6,574.3 L691.4,576.5 L690.4,578.4 L689.4,580.7 L689.0,582.8 L688.7,585.5 L687.4,588.1 L686.6,590.3 L687.7,593.0 L686.5,595.3 L684.8,595.5 L682.8,596.5 L682.2,594.1 L682.6,591.7 L680.6,590.1 L681.0,587.8 L681.2,585.0 L679.7,583.2 L680.3,579.8 L679.0,577.7 L677.5,576.6 L675.8,575.4 L674.0,575.2 L671.3,575.2 L669.2,576.4 L666.5,576.5 L664.1,576.4 L661.8,575.6 L659.0,575.2 L657.2,574.1 L654.9,574.4 L652.9,573.2 L651.4,571.8 L648.9,571.5 L647.6,569.7 L646.6,567.4 L646.4,565.2 L644.5,564.8 L643.0,562.6 L641.4,561.5 L639.0,560.4 L636.1,560.9 L634.0,559.7 L631.4,559.7 L629.6,558.2 L628.5,556.2 L626.4,555.9 L624.7,557.5 L622.5,558.0 L620.1,558.9 L618.3,558.4 L615.8,558.1 L613.8,558.9 L613.2,561.3 L612.1,563.9 L612.6,566.5 L610.2,568.1 L608.9,570.3 L608.0,572.1 L606.3,574.0 L604.1,573.7 L602.1,575.2 L600.1,575.2 L598.9,573.6 L597.6,571.5 L595.3,572.2 L593.8,574.0 L591.4,572.7 L589.1,572.5 L586.2,573.6 L583.8,572.7 L581.1,571.9 L579.1,572.0 L576.6,572.2 L573.4,572.0 L571.2,571.5 L568.8,571.5 L567.0,570.8 L564.8,570.4 L562.1,571.1 L560.0,570.2 L557.2,569.8 L555.5,568.5 L554.0,566.7 L551.2,566.5 L550.2,564.4 L547.5,563.1 L546.3,561.1 L543.7,560.2 L543.7,557.7 L542.1,556.2 L541.2,553.9 L539.1,553.5 L537.3,552.4 L535.8,550.6 L533.6,550.2 L532.4,549.2 L530.1,549.0 L529.0,547.5 L528.2,545.4 L526.1,544.2 L524.3,545.3 L522.2,544.9 L520.1,544.7 L518.0,545.0 L515.7,545.8 L513.6,546.6 L512.0,548.0 L510.2,547.4 L508.3,546.4 L506.2,545.8 L504.0,546.0 L502.1,544.8 L500.2,543.8 L497.9,542.8 L496.0,542.0 L493.8,541.2 L492.0,540.1 L489.9,539.2 L488.0,538.0 L486.4,536.7 L483.5,536.5 L481.5,535.6 L480.0,534.0 L478.5,532.2 L476.3,530.9 L474.6,529.0 L472.0,528.0 L470.0,528.1 L468.3,526.2 L465.6,526.0 L464.0,525.0 L462.1,523.5 L460.0,522.8 L457.4,522.8 L456.0,521.0 L453.4,521.3 L451.0,521.2 L449.0,521.0 L446.7,520.7 L446.0,519.0 L446.1,521.3 L444.6,523.3 L444.0,525.0 L441.6,525.2 L439.8,525.2 L438.0,526.5 L436.3,527.7 L433.5,527.4 L431.8,528.0 L429.7,528.9 L429.4,526.8 L428.3,524.9 L427.9,523.4 L428.0,521.0 L425.7,519.9 L424.7,517.6 L422.4,517.1 L419.5,517.5 L417.2,517.1 L414.9,516.9 L413.1,515.6 L410.9,515.1 L408.6,515.2 L407.0,513.9 L404.7,513.8 L403.8,516.1 L403.4,518.4 L403.9,520.7 L404.0,523.0 L403.4,525.1 L404.5,527.4 L403.9,530.4 L403.8,532.9 L403.7,535.5 L404.7,537.6 L404.2,540.2 L404.3,542.4 L403.3,545.2 L404.4,547.6 L403.4,550.2 L403.3,552.5 L402.1,554.0 L401.2,556.1 L401.5,558.3 L400.4,560.2 L400.4,562.5 L402.9,564.2 L403.4,566.5 L400.9,567.3 L399.7,569.0 L397.2,568.8 L395.1,569.0 L392.9,567.2 L390.6,567.7 L388.4,567.2 L386.2,567.0 L383.7,566.1 L381.6,567.3 L379.6,566.5 L377.9,568.3 L378.0,570.6 L377.1,572.7 L375.5,574.3 L374.0,575.5 L371.8,576.6 L370.8,579.0 L369.6,580.9 L368.3,582.8 L367.1,585.3 L367.1,587.8 L366.8,590.3 L366.8,592.9 L365.8,595.3 L364.9,597.5 L364.2,599.9 L364.9,601.9 L364.6,604.1 L362.4,605.0 L361.1,606.6 L359.5,607.8 L357.9,606.2 L355.8,605.3 L354.3,603.8 L352.6,602.2 L351.7,600.3 L349.5,599.0 L347.5,600.7 L345.2,600.8 L343.3,601.6 L341.2,600.3 L338.8,600.5 L337.0,600.3 L335.3,598.7 L333.1,598.2 L331.5,595.5 L329.5,594.8 L327.8,596.5 L325.7,597.8 L324.7,599.6 L324.8,601.9 L323.7,603.5 L323.2,605.3 L321.2,605.6 L319.5,606.1 L317.5,607.1 L315.7,607.8 L314.0,609.2 L313.0,611.4 L310.7,612.8 L308.5,612.7 L306.4,611.1 L304.4,610.3 L302.4,609.0 L300.5,608.1 L297.9,607.9 L295.6,606.6 L293.1,606.1 L290.7,605.5 L288.2,605.5 L285.6,604.8 L283.3,605.4 L280.5,604.5 L277.8,605.1 L275.6,604.1 L273.5,604.1 L271.9,602.3 L269.9,601.2 L268.1,600.3 L266.9,598.4 L265.5,596.9 L264.3,595.3 L265.3,593.8 L266.0,591.8 L267.9,590.6 L269.3,589.0 L267.8,586.7 L266.3,584.8 L266.2,583.0 L265.4,581.4 L263.6,580.0 L260.9,578.9 L258.7,579.4 L256.2,578.5 L254.4,577.3 L253.0,575.8 L251.9,573.7 L250.2,573.0 L248.4,572.3 L247.2,569.9 L245.0,569.5 L243.8,568.0 L242.1,567.3 L240.0,567.0 L238.4,566.9 L237.3,565.5 L236.7,564.0 L235.1,563.9 L234.8,562.1 L233.9,560.1 L234.6,558.0 L233.8,556.0 L233.0,553.7 L231.1,552.5 L228.7,552.1 L228.8,549.5 L227.5,548.3 L226.5,546.1 L225.9,544.4 L225.4,542.8 L224.4,541.3 L221.9,541.1 L220.3,541.3 L217.9,541.9 L216.4,540.0 L214.7,538.6 L213.6,536.6 L212.0,535.8 L211.5,533.3 L211.3,531.7 L209.3,530.2 L209.3,528.4 L206.8,527.1 L205.0,525.7 L203.7,523.6 L201.8,522.5 L200.2,522.6 L198.1,521.2 L196.4,522.0 L194.0,521.7 L192.1,523.1 L191.8,524.9 L190.9,526.2 L190.0,527.9 L188.4,526.7 L187.5,525.1 L187.0,523.0 L185.9,520.9 L184.5,519.9 L183.0,519.0 L181.0,518.0 L180.5,515.6 L180.1,513.5 L179.0,512.0 L178.5,510.0 L176.7,508.5 L177.4,505.8 L176.0,504.0 L174.6,501.7 L172.8,500.5 L172.1,497.5 L170.0,496.0 L167.7,495.1 L167.1,492.6 L165.4,491.6 L163.6,491.2 L162.6,489.1 L161.0,488.5 L158.6,489.4 L156.6,490.0 L154.6,490.1 L152.4,489.8 L151.2,487.2 L149.0,487.2 L148.0,485.0 L146.7,483.7 L145.2,482.2 L144.9,479.6 L144.3,477.0 L142.6,475.2 L140.7,473.9 L140.4,471.4 L140.1,469.2 L138.2,467.3 L135.9,466.6 L135.0,464.5 L134.2,462.2 L133.7,460.3 L131.9,459.0 L130.6,457.5 L129.2,456.1 L127.3,455.6 L126.2,453.7 L125.7,452.0 L126.2,449.8 L124.6,448.3 L123.5,447.1 L122.7,445.2 L121.2,443.7 L119.3,442.3 L117.5,440.6 L115.6,439.4 L113.6,438.8 L111.8,438.3 L109.7,437.9 L107.8,438.4 L106.0,437.2 L105.4,439.3 L104.3,440.6 L101.9,440.3 L99.0,439.5 L96.8,439.5 L95.2,438.1 L93.3,437.6 L91.6,437.2 L90.8,435.3 L89.5,433.6 L88.8,431.4 L87.9,429.4 L88.3,427.2 L87.0,425.1 L85.3,424.0 L83.8,422.6 L81.9,421.1 L79.8,420.2 L78.4,419.1 L76.1,419.3 L74.6,417.4 L74.4,415.3 L74.0,413.2 L71.6,411.4 L71.5,409.0 L71.8,406.8 L72.8,404.6 L73.2,402.7 L72.0,400.7 L72.1,398.1 L69.8,398.4 L67.8,397.6 L66.3,396.3 L65.6,394.1 L63.9,392.1 L63.5,390.0 L62.7,387.7 L61.0,385.8 L61.4,382.9 L59.1,381.7 L58.9,378.9 L58.1,376.3 L57.5,373.7 L58.7,371.2 L57.6,368.9 L57.0,366.3 L54.6,365.1 L53.9,362.6 L51.4,361.8 L50.8,358.7 L48.6,357.7 L46.4,356.3 L45.1,354.5 L43.7,352.4 L41.4,351.3 L40.5,349.4 L39.7,347.4 L40.1,345.1 L42.4,344.3 L44.1,342.6 L46.4,341.3 L48.7,340.4 L49.4,338.8 L51.4,337.5 L52.0,335.4 L52.9,334.0 L52.6,331.4 L53.9,330.0 L54.5,327.4 L56.4,326.2 L57.6,323.8 L59.0,323.2 L60.2,322.9 L61.9,321.4 L60.9,318.5 L62.7,316.6" fill="none" stroke="#000" stroke-width="1.1" stroke-linejoin="miter" stroke-miterlimit="1.6" stroke-linecap="round"/>
<path d="M62.7,316.6 L61.8,314.5 L61.4,311.6 L59.6,311.0 L57.3,310.7 L55.1,310.4 L53.6,308.1 L53.9,305.4 L53.6,303.3 L54.2,301.7 L55.7,300.0 L53.8,299.0 L52.3,298.0 L50.1,297.9 L48.1,296.3 L46.0,294.8 L44.3,294.0 L42.2,293.0 L41.0,290.8 L38.0,289.6 L36.5,287.5 L33.8,286.2 L32.0,284.7 L31.2,282.0 L29.0,282.1 L27.1,282.0 L25.3,281.1 L24.7,279.4 L23.6,277.8 L23.0,276.3 L21.2,274.9 L21.1,272.7 L19.6,271.5 L17.5,271.1 L16.0,269.9 L15.5,268.3 L15.2,266.5 L16.0,264.3 L15.6,262.3 L16.4,259.8 L18.1,258.0 L17.5,256.1 L16.9,254.7 L16.7,252.6 L15.6,250.4 L14.5,248.4 L11.8,247.5 L10.3,245.3 L9.3,243.3 L7.0,243.3 L5.1,242.0 L2.7,241.2 L1.7,239.1 L3.0,237.6 L3.4,235.7 L5.9,235.4 L8.0,233.6 L7.5,231.7 L6.3,230.2 L6.3,227.9 L5.9,225.5 L4.9,223.8 L3.4,223.4 L3.4,223.4 L5.4,223.5 L7.3,222.8 L9.0,223.8 L11.4,223.9 L13.0,224.2 L15.2,223.4 L16.3,225.1 L16.9,226.8 L18.0,229.2 L17.3,231.9 L18.1,233.1 L17.7,234.8 L20.2,234.1 L22.1,234.4 L24.5,235.3 L25.4,237.1 L25.7,238.6 L24.1,240.0 L21.9,239.9 L23.3,241.4 L24.5,242.4 L26.3,244.1 L28.3,244.5 L29.1,246.1 L29.1,247.9 L28.2,249.9 L27.0,251.3 L26.9,253.2 L28.7,254.7 L30.6,255.1 L32.1,256.8 L33.7,256.3 L35.4,256.8 L34.8,255.3 L33.8,253.8 L32.8,251.4 L33.8,248.8 L34.0,246.7 L35.5,244.9 L35.0,242.8 L36.8,242.4 L38.4,242.0 L38.4,240.1 L37.6,237.8 L39.5,235.3 L39.7,232.7 L42.2,232.8 L43.9,231.5 L44.1,229.4 L43.9,227.0 L45.1,225.1 L46.8,223.5 L49.8,223.4 L50.0,221.7 L51.5,220.1 L53.2,219.1 L55.7,218.4 L58.2,218.4 L57.0,216.8 L57.8,214.5 L58.4,212.4 L59.7,210.3 L61.6,209.4 L63.4,209.1 L65.3,207.8 L67.5,207.7 L69.7,207.2 L73.0,207.8 L75.1,206.9 L77.6,206.5 L79.8,205.5 L82.7,206.0 L84.8,207.3 L86.9,209.4 L88.7,208.0 L89.1,204.6 L91.1,203.5 L92.6,202.8 L94.3,202.0 L96.2,201.0 L99.1,200.5 L101.3,200.1 L103.6,198.9 L104.6,196.8 L107.0,197.7 L109.7,199.1 L111.4,201.0 L113.4,202.5 L115.2,203.3 L116.9,205.7 L118.6,207.1 L120.7,207.7 L123.0,207.7 L124.5,206.0 L126.6,206.0 L127.6,204.6 L128.6,202.6 L130.8,201.8 L130.7,199.4 L132.5,197.5 L132.0,195.1 L133.4,192.3 L133.0,190.0 L134.5,188.9 L134.3,186.9 L136.3,186.9 L138.3,187.4 L140.3,188.6 L142.7,188.4 L144.6,188.4 L146.8,187.6 L148.7,186.9 L151.1,185.2 L154.2,185.9 L156.3,184.4 L157.9,182.4 L158.1,179.4 L159.7,177.6 L160.0,175.1 L161.7,173.4 L161.4,170.9 L163.2,169.6 L164.7,168.9 L166.4,169.7 L168.6,168.9 L170.6,170.0 L173.0,168.8 L174.0,166.7 L175.9,164.7 L178.2,164.1 L180.5,163.6 L181.6,161.6 L181.3,159.9 L181.6,158.2 L183.2,157.9 L185.0,159.1 L185.0,161.5 L186.7,163.3 L187.5,165.0 L189.9,166.3 L191.7,167.5 L194.0,166.5 L195.9,164.1 L196.6,162.3 L197.8,160.4 L199.3,159.1 L200.0,157.2 L201.1,155.1 L202.7,154.0 L203.3,151.4 L204.4,148.9 L204.1,147.0 L203.5,145.6 L205.9,144.7 L207.8,144.2 L210.1,144.1 L211.9,144.1 L214.5,143.9 L216.0,143.0 L217.6,141.3 L219.6,141.4 L222.0,140.3 L224.6,140.5 L226.1,141.8 L228.2,141.9 L229.7,143.0 L231.9,142.5 L233.5,141.2 L235.6,141.4 L237.4,140.6 L239.6,141.3 L241.5,140.5 L244.2,141.1 L246.6,141.4 L249.1,140.8 L250.8,138.8 L252.7,136.8 L254.2,134.6 L254.2,132.5 L254.1,130.6 L254.2,128.7 L256.6,127.2 L258.4,126.2 L260.5,125.6 L262.1,125.3 L263.5,123.6 L266.4,122.7 L268.5,121.9 L270.4,122.8 L273.1,121.7 L275.3,122.8 L277.2,121.2 L280.0,121.1 L281.3,119.0 L283.5,118.5 L286.1,118.1 L287.6,116.1 L289.7,116.3 L291.9,115.1 L295.0,115.2 L297.2,113.3 L299.5,113.4 L300.2,110.8 L301.2,108.4 L304.3,108.4 L306.3,106.7 L308.3,106.3 L310.1,107.3 L312.2,107.5 L314.2,106.6 L316.4,107.4 L318.9,106.7 L320.1,105.1 L320.3,102.9 L322.3,101.6 L322.1,99.4 L321.5,97.4 L318.8,97.2 L317.3,95.7 L314.6,94.2 L312.2,94.0 L310.7,91.9 L310.5,88.9 L311.2,86.9 L313.0,86.4 L310.9,87.3 L308.0,87.3 L306.0,86.0 L304.6,84.7 L305.2,82.8 L304.6,80.5 L306.0,77.7 L308.0,76.3 L309.0,74.1 L309.7,72.1 L311.6,71.8 L313.5,73.6 L315.6,73.8 L318.8,74.4 L320.6,76.3 L323.3,77.5 L325.7,78.0 L327.6,76.6 L329.6,76.0 L331.6,76.3 L334.0,76.2 L336.7,76.3 L337.5,73.8 L337.9,76.2 L338.4,78.0 L340.5,78.7 L342.6,80.5 L344.9,81.7 L347.6,83.0 L349.1,84.2 L350.1,85.8 L350.2,88.1 L350.3,90.0 L349.1,91.8 L349.3,94.0 L348.2,95.9 L346.8,98.2 L348.4,99.1 L350.2,100.8 L352.0,99.8 L354.8,100.1 L356.9,99.1 L358.0,101.1 L357.8,103.3 L356.2,104.7 L355.5,106.9 L355.2,109.2 L354.8,112.0 L354.4,114.3 L356.2,114.9 L357.9,116.4 L359.5,116.8 L361.8,117.4 L363.4,118.9 L365.4,119.3 L367.5,120.4 L369.6,121.9 L371.6,121.2 L374.0,121.5 L375.7,122.0 L378.0,122.7 L378.0,120.5 L379.4,119.3 L380.4,117.1 L379.5,115.0 L379.8,112.7 L380.5,110.5 L381.4,111.7 L383.5,110.8 L386.1,110.7 L388.1,110.9 L390.2,112.4 L393.1,111.6 L394.9,112.6 L397.1,112.5 L399.4,112.1 L401.6,113.4 L403.5,112.4 L405.5,111.4 L404.9,108.7 L405.5,106.0 L404.1,104.8 L404.5,102.8 L405.5,100.5 L405.7,98.5 L407.4,97.1 L406.7,95.1 L407.6,92.8 L408.3,90.5 L406.8,88.8 L405.0,87.3 L403.3,86.3 L401.6,86.4 L402.5,84.2 L402.5,82.2 L404.3,81.4 L406.5,81.9 L408.4,80.3 L410.8,80.7 L413.2,79.4 L415.2,80.3 L417.3,81.6 L419.8,81.9 L421.9,81.9 L423.4,80.8 L425.3,81.1 L426.8,82.6 L427.8,84.5 L429.5,85.3 L432.0,85.5 L434.2,85.7 L436.3,85.3 L438.0,85.5 L440.0,86.3 L441.4,87.8 L443.8,89.7 L444.7,92.1 L444.3,94.1 L443.9,96.1 L443.9,98.0 L443.2,100.1 L442.2,103.0 L442.2,105.3 L443.3,107.0 L443.9,108.9 L445.1,110.4 L446.8,112.0 L448.9,113.2 L451.0,113.8 L451.9,116.2 L454.0,117.4 L455.0,120.5 L456.5,122.4 L456.5,124.6 L456.5,127.1 L456.5,129.2 L457.5,130.9 L459.1,131.7 L461.1,130.5 L463.3,128.4 L464.4,126.6 L466.7,125.8 L468.0,127.0 L469.7,127.5 L471.7,128.4 L473.9,128.4 L475.6,130.4 L477.6,130.9 L479.7,131.5 L482.1,131.5 L484.4,131.7 L486.4,131.9 L488.6,133.1 L491.1,132.6 L492.5,134.6 L495.0,134.0 L496.2,135.9 L498.2,138.3 L500.4,139.3 L502.4,139.6 L504.6,140.2 L507.1,139.3 L509.1,139.0 L511.4,139.3 L512.8,137.8 L515.0,138.5 L516.5,136.8 L517.7,139.0 L519.8,140.2 L519.7,142.5 L521.5,144.2 L521.5,146.1 L522.1,147.9 L523.8,150.1 L523.6,152.4 L524.2,154.7 L525.7,153.0 L528.2,152.1 L530.1,151.4 L532.3,150.2 L534.2,151.7 L536.7,151.6 L538.6,150.5 L540.1,152.7 L542.8,153.9 L543.6,156.0 L543.0,158.7 L544.5,160.6 L545.2,162.2 L545.3,164.0 L544.1,165.8 L541.9,167.4 L544.7,168.1 L546.2,169.9 L547.5,168.0 L548.5,166.8 L550.4,165.7 L551.4,163.9 L552.6,161.4 L553.8,159.8 L556.9,159.1 L558.8,157.3 L561.3,158.2 L563.2,159.2 L565.6,158.9 L566.5,160.4 L568.0,162.1 L569.8,163.2 L572.3,162.3 L574.0,160.6 L573.8,158.8 L575.4,157.0 L574.9,154.7 L576.8,154.6 L579.0,154.3 L580.8,154.7 L582.9,155.7 L585.1,155.0 L587.5,154.7 L589.1,156.1 L591.2,156.8 L592.6,158.9 L594.9,160.4 L595.8,162.2 L597.6,164.0 L599.0,166.2 L600.9,166.6 L602.7,168.2 L604.0,170.2 L604.4,173.3 L603.2,175.3 L601.0,177.5 L599.8,179.4 L597.6,180.9 L597.0,183.7 L596.8,185.9 L594.4,187.2 L592.6,189.3 L590.1,190.3 L587.5,191.0 L586.5,193.1 L585.0,195.2 L582.9,196.8 L579.9,196.9 L578.0,197.5 L577.0,199.7 L575.7,201.1 L573.7,201.7 L572.3,203.7 L572.8,205.6 L572.3,207.9 L574.1,209.4 L575.7,211.3 L576.9,214.2 L579.1,215.5 L580.0,217.5 L582.4,218.9 L584.8,217.1 L587.5,217.2 L588.7,218.9 L590.5,219.2 L592.5,220.2 L594.0,221.9 L594.5,224.0 L596.1,225.0 L596.7,227.2 L598.9,228.5 L601.4,228.0 L604.4,229.1 L605.3,231.1 L605.5,233.4 L607.2,234.7 L608.4,236.9 L610.0,238.3 L611.3,240.2 L613.9,241.5 L615.6,243.7 L616.8,245.7 L618.1,247.2 L620.4,247.8 L621.7,249.9 L621.4,252.3 L622.5,254.2 L621.7,256.8 L622.3,258.7 L623.2,260.2 L623.7,262.3 L624.7,264.0 L626.8,265.7 L627.9,267.8 L629.2,270.4 L631.0,272.0 L633.4,273.3 L635.4,273.9 L636.7,276.5 L638.9,276.8 L640.3,276.7 L642.0,277.5 L643.2,275.8 L644.1,274.4 L645.5,272.8 L647.3,270.9 L647.7,269.1 L649.7,267.3 L651.3,265.7 L653.4,264.9 L655.2,263.1 L656.3,261.3 L656.1,259.6 L656.6,257.6 L658.6,257.0 L659.7,255.4 L660.7,253.5 L663.4,253.7 L665.5,254.9 L666.5,252.8 L667.7,251.8 L669.0,250.0 L670.7,249.0 L673.0,249.4 L674.5,248.7 L676.0,246.5 L678.6,245.2 L680.5,245.5 L681.4,246.6 L682.9,247.7 L683.5,250.0 L684.6,248.0 L686.9,247.3 L686.1,244.5 L684.2,243.1 L685.2,240.8 L685.9,239.2 L685.5,236.9 L683.4,234.5 L682.8,232.1 L681.0,230.5 L678.0,229.3 L676.9,227.7 L675.1,226.8 L673.8,225.2 L672.6,223.7 L672.0,221.3 L671.7,219.0 L671.5,216.7 L670.3,214.6 L668.3,212.8 L666.4,211.5 L665.6,209.5 L663.5,208.6 L663.3,206.1 L664.7,203.6 L665.5,201.7 L667.3,200.5 L669.7,200.4 L671.1,202.1 L674.1,202.6 L675.9,203.8 L677.2,205.1 L679.7,204.7 L681.4,206.6 L683.3,208.0 L686.1,208.5 L688.3,208.6 L690.4,208.3 L693.0,209.5 L695.2,208.6 L697.4,209.4 L698.9,210.5 L700.7,212.1 L703.4,212.3 L704.9,214.2 L707.6,214.3 L709.7,212.8 L709.5,214.7 L711.6,216.3 L711.8,218.3 L713.3,220.8 L715.5,221.2 L717.3,223.1 L719.2,224.1 L720.3,226.0 L722.8,226.6 L724.9,226.7 L726.8,226.3 L728.3,225.2 L729.6,225.7 L731.1,225.9 L731.8,228.5 L731.8,231.4 L731.2,233.2 L732.4,235.7 L731.8,237.6 L733.6,236.0 L736.6,234.9 L738.7,234.4 L740.6,235.5 L742.1,236.2 L742.6,239.3 L744.2,241.1 L745.3,239.5 L746.9,237.7 L749.0,236.9 L751.3,236.9 L753.4,235.5 L755.9,235.5 L758.8,235.5 L761.8,235.6 L764.2,234.9 L765.8,236.1 L768.2,237.0 L770.2,236.4 L771.6,234.7 L773.3,233.3 L775.6,232.4 L777.7,230.4 L777.4,228.3 L777.5,225.7 L778.4,223.8 L780.8,224.3 L783.5,224.6 L785.1,226.1 L785.9,227.4 L787.2,229.0 L785.7,230.5 L784.5,231.7 L784.3,234.1 L783.9,236.5 L783.5,238.4 L785.3,240.6 L787.9,240.5 L789.4,242.8 L789.9,244.9 L787.9,247.1 L788.6,249.4 L786.0,248.9 L783.5,250.1 L781.8,251.5 L781.3,253.7 L779.1,254.9 L776.9,254.2 L774.8,255.9 L772.0,256.5 L769.7,257.9 L766.8,258.1 L767.5,259.7 L766.8,261.7 L768.9,262.8 L769.9,264.7 L771.9,266.1 L773.8,266.9 L773.9,269.1 L775.5,270.5 L777.7,269.5 L780.6,269.0 L782.0,270.7 L784.3,270.6 L785.7,272.7 L787.1,274.5 L787.8,276.5 L789.4,278.5 L791.0,280.2 L791.4,282.2 L792.3,284.3 L793.5,287.1 L793.7,289.4 L796.1,289.8 L798.1,290.6 L800.3,291.6 L800.9,294.5 L802.5,296.0 L804.3,296.8 L806.1,298.2 L808.2,298.4 L810.7,296.7 L812.7,297.5 L814.2,295.8 L815.6,294.3 L817.0,293.1 L818.3,292.3 L820.0,291.4 L821.5,289.8 L824.0,290.2 L825.5,289.3 L828.3,289.2 L830.4,290.7 L830.4,288.3 L831.0,285.9 L828.6,285.9 L826.2,284.5 L825.4,282.9 L824.8,281.7 L825.6,279.5 L827.6,278.3 L829.5,279.4 L831.2,278.6 L833.1,279.7 L834.9,282.3 L837.3,283.1 L837.6,285.5 L837.9,288.6 L839.4,290.9 L842.1,292.1 L844.2,294.2 L846.9,294.8 L848.4,293.6 L849.0,291.4 L851.1,292.3 L853.8,292.1 L854.8,294.7 L855.2,296.9 L857.2,298.2 L860.0,298.3 L862.2,298.4 L864.2,299.7 L864.5,302.0 L864.9,304.5 L866.7,305.2 L867.5,307.7 L869.0,308.6 L870.2,306.5 L872.4,305.9 L873.2,304.5 L873.1,302.4 L875.1,303.7 L878.0,303.8 L880.1,303.8 L882.0,303.6 L884.2,303.1 L885.9,304.2 L887.6,305.4 L889.0,306.6 L890.9,307.6 L893.2,308.1 L894.5,310.0 L897.0,310.3 L900.0,310.7 L901.3,308.2 L901.4,305.9 L903.3,305.8 L905.6,305.9 L906.0,308.3 L906.3,311.4 L906.7,314.2 L905.6,316.9 L908.2,316.8 L910.4,318.3 L909.2,319.7 L907.6,321.1 L906.3,323.1 L906.6,325.5 L907.5,327.0 L908.3,329.3 L909.2,331.1 L909.3,333.2 L911.1,334.9 L911.5,337.3 L912.6,338.9 L913.8,340.4 L915.6,342.9 L915.9,345.2 L915.5,347.6 L915.2,349.4 L916.6,350.8 L918.9,351.4 L920.7,351.4 L922.7,351.0 L924.1,352.8 L926.3,352.8 L927.7,355.0 L930.4,356.3 L932.9,356.9 L935.9,356.3 L938.5,357.5 L940.5,358.5 L941.6,360.8 L941.5,363.5 L942.9,365.8 L942.6,368.8 L944.1,371.1 L943.8,373.6 L945.5,375.5 L945.6,377.7 L947.2,379.5 L947.0,381.9 L947.5,384.2 L949.0,386.0 L947.9,388.0 L947.8,390.4 L946.3,391.7 L944.1,391.9 L941.9,392.1 L939.7,393.2 L937.3,394.0 L936.3,396.5 L934.5,397.6 L932.5,397.5 L930.5,396.6 L927.9,396.8 L925.5,396.4 L922.6,397.1 L920.5,397.6 L918.0,396.9 L915.9,397.0 L913.2,396.1 L911.5,397.4 L909.0,397.0" fill="none" stroke="#000" stroke-width="1.5" stroke-linejoin="miter" stroke-miterlimit="1.6" stroke-linecap="round"/>
<path d="M410.1,29.5 L408.4,40.0 L406.7,53.5 L403.3,67.0 L399.1,80.5 L394.0,90.6 L388.1,99.1 L380.5,110.5" fill="none" stroke="#000" stroke-width="1.5" stroke-linejoin="miter" stroke-miterlimit="1.6" stroke-linecap="round"/>
<path d="M490.4,160 L488.6,186 M504.6,163 L500.6,199.5" stroke="#444" stroke-width="0.8" fill="none"/>
<path d="M9.0,185.1 L13.7,193.3 L4.3,193.3 Z" fill="#08f0b8" stroke="#58c8b0" stroke-width="0.8"/>
<text x="6.8" y="182.2" font-size="10.6" >DPLDF</text>
<path d="M74.9,198.7 L79.6,206.9 L70.2,206.9 Z" fill="#08f0b8" stroke="#58c8b0" stroke-width="0.8"/>
<text x="53.2" y="194.2" font-size="10.6" >DCARF</text>
<path d="M300.0,93.4 L304.7,101.6 L295.3,101.6 Z" fill="#08f0b8" stroke="#58c8b0" stroke-width="0.8"/>
<text x="257.4" y="99.3" font-size="10.6" >DMITF</text>
<path d="M235.8,137.2 L240.5,145.4 L231.1,145.4 Z" fill="#08f0b8" stroke="#58c8b0" stroke-width="0.8"/>
<text x="210.0" y="133.8" font-size="10.6" >DZINF</text>
<path d="M399.1,41.7 L403.8,49.9 L394.4,49.9 Z" fill="#08f0b8" stroke="#58c8b0" stroke-width="0.8"/>
<text x="350.4" y="44.2" font-size="10.6" >DGODF</text>
<rect x="499.1" y="141.4" width="9.4" height="9.5" fill="#ffd080" stroke="#8a8a8a" stroke-width="0.8"/>
<circle cx="503.8" cy="146.2" r="0.95" fill="#000"/>
<rect x="499.1" y="150.9" width="9.4" height="9.5" fill="#ccccff" stroke="#8a8a8a" stroke-width="0.8"/>
<circle cx="503.8" cy="155.7" r="0.95" fill="#000"/>
<circle cx="481.7" cy="34.4" r="4.5" fill="#08f0b8" stroke="#30c8a8" stroke-width="0.6"/>
<path d="M481.7,29.9 L481.7,38.9 M477.2,34.4 L486.2,34.4" stroke="#0a5a44" stroke-width="0.7" fill="none"/>
<text x="487.8" y="28.1" font-size="10.6" >OJELF</text>
<circle cx="397.7" cy="90.3" r="4.5" fill="#08f0b8" stroke="#30c8a8" stroke-width="0.6"/>
<path d="M397.7,85.8 L397.7,94.8 M393.2,90.3 L402.2,90.3" stroke="#0a5a44" stroke-width="0.7" fill="none"/>
<text x="353.8" y="88.1" font-size="10.6" >OBOGB</text>
<text x="402.5" y="77.2" font-size="10.6" >ODZIF</text>
<circle cx="403.2" cy="105.8" r="4.5" fill="#ccccff" stroke="#9c9cc8" stroke-width="0.6"/>
<path d="M401.70,101.56 L401.70,110.04 M398.96,104.30 L407.44,104.30 M404.70,101.56 L404.70,110.04 M398.96,107.30 L407.44,107.30 " stroke="#4c4c7c" stroke-width="0.75" fill="none"/>
<text x="411.5" y="111.8" font-size="10.6" >OCZIF</text>
<circle cx="448.4" cy="102.6" r="4.5" fill="#08f0b8" stroke="#30c8a8" stroke-width="0.6"/>
<path d="M448.4,98.1 L448.4,107.1 M443.9,102.6 L452.9,102.6" stroke="#0a5a44" stroke-width="0.7" fill="none"/>
<text x="467.0" y="98.8" font-size="10.6" >LJZRB</text>
<text x="458.6" y="108.6" font-size="10.6" >LJZRS</text>
<polygon points="455.70,108.25 456.73,111.58 460.22,111.53 457.36,113.54 458.49,116.84 455.70,114.75 452.91,116.84 454.04,113.54 451.18,111.53 454.67,111.58" fill="#6ad4ff" stroke="#111" stroke-width="0.95" stroke-linejoin="miter"/>
<polygon points="451.50,115.25 452.53,118.58 456.02,118.53 453.16,120.54 454.29,123.84 451.50,121.75 448.71,123.84 449.84,120.54 446.98,118.53 450.47,118.58" fill="#ffd080" stroke="#111" stroke-width="0.95" stroke-linejoin="miter"/>
<circle cx="466.2" cy="122.0" r="4.5" fill="#ccccff" stroke="#9c9cc8" stroke-width="0.6"/>
<path d="M464.70,117.76 L464.70,126.24 M461.96,120.50 L470.44,120.50 M467.70,117.76 L467.70,126.24 M461.96,123.50 L470.44,123.50 " stroke="#4c4c7c" stroke-width="0.75" fill="none"/>
<text x="470.9" y="120.8" font-size="10.6" >OJAKB</text>
<circle cx="497.4" cy="127.1" r="4.5" fill="#ccccff" stroke="#9c9cc8" stroke-width="0.6"/>
<path d="M495.90,122.86 L495.90,131.34 M493.16,125.60 L501.64,125.60 M498.90,122.86 L498.90,131.34 M493.16,128.60 L501.64,128.60 " stroke="#4c4c7c" stroke-width="0.75" fill="none"/>
<text x="508.0" y="119.8" font-size="10.6" >OPRZB</text>
<circle cx="511.1" cy="131.2" r="4.5" fill="#ccccff" stroke="#9c9cc8" stroke-width="0.6"/>
<path d="M509.60,126.96 L509.60,135.44 M506.86,129.70 L515.34,129.70 M512.60,126.96 L512.60,135.44 M506.86,132.70 L515.34,132.70 " stroke="#4c4c7c" stroke-width="0.75" fill="none"/>
<text x="518.6" y="130.8" font-size="10.6" >OKARB</text>
<circle cx="507.1" cy="140.9" r="4.5" fill="#ccccff" stroke="#9c9cc8" stroke-width="0.6"/>
<path d="M505.60,136.66 L505.60,145.14 M502.86,139.40 L511.34,139.40 M508.60,136.66 L508.60,145.14 M502.86,142.40 L511.34,142.40 " stroke="#4c4c7c" stroke-width="0.75" fill="none"/>
<text x="523.2" y="143.8" font-size="10.6" >OSNIB</text>
<circle cx="628.9" cy="204.0" r="4.5" fill="#ccccff" stroke="#9c9cc8" stroke-width="0.6"/>
<path d="M627.40,199.76 L627.40,208.24 M624.66,202.50 L633.14,202.50 M630.40,199.76 L630.40,208.24 M624.66,205.50 L633.14,205.50 " stroke="#4c4c7c" stroke-width="0.75" fill="none"/>
<text x="620.1" y="223.8" font-size="10.6" >OKLOB</text>
<text x="140.7" y="181.2" font-size="10.6" >URVHU</text>
<text x="140.7" y="191.5" font-size="10.6" >URVHB</text>
<text x="140.7" y="203.9" font-size="10.6" >URVHF</text>
<rect x="182.4" y="168.2" width="9.5" height="9.5" fill="#44e000" stroke="#8a8a8a" stroke-width="0.8"/>
<circle cx="187.2" cy="172.9" r="0.95" fill="#000"/>
<rect x="182.4" y="177.7" width="9.5" height="9.5" fill="#ccccff" stroke="#8a8a8a" stroke-width="0.8"/>
<circle cx="187.2" cy="182.4" r="0.95" fill="#000"/>
<rect x="182.4" y="187.2" width="9.5" height="9.5" fill="#08f0b8" stroke="#8a8a8a" stroke-width="0.8"/>
<circle cx="187.2" cy="191.9" r="0.95" fill="#000"/>
<circle cx="195.4" cy="180.0" r="4.4" fill="#ffd080" stroke="#8a8a8a" stroke-width="0.8"/>
<circle cx="195.4" cy="180.0" r="1" fill="#000"/>
<circle cx="195.4" cy="190.1" r="4.4" fill="#ccccff" stroke="#8a8a8a" stroke-width="0.8"/>
<circle cx="195.4" cy="190.1" r="1" fill="#000"/>
<circle cx="195.4" cy="199.5" r="4.4" fill="#ff0000" stroke="#e00000" stroke-width="0.8"/>
<circle cx="195.4" cy="199.5" r="1" fill="#000"/>
<text x="202.8" y="182.8" font-size="10.6" >UJEZS</text>
<text x="202.8" y="194.8" font-size="10.6" >UJEZB</text>
<text x="202.8" y="205.5" font-size="10.6" >UJEZQ</text>
<rect x="268.6" y="148.0" width="9.7" height="9.6" fill="#44e000" stroke="#8a8a8a" stroke-width="0.8"/>
<circle cx="273.5" cy="152.8" r="0.95" fill="#000"/>
<rect x="268.6" y="157.6" width="9.7" height="9.6" fill="#ccccff" stroke="#8a8a8a" stroke-width="0.8"/>
<circle cx="273.5" cy="162.4" r="0.95" fill="#000"/>
<rect x="268.6" y="167.2" width="9.7" height="9.6" fill="#08f0b8" stroke="#8a8a8a" stroke-width="0.8"/>
<circle cx="273.5" cy="172.0" r="0.95" fill="#000"/>
<text x="283.8" y="156.5" font-size="10.6" >UULKU</text>
<text x="283.8" y="168.2" font-size="10.6" >UULKB</text>
<text x="283.8" y="179.0" font-size="10.6" >UULKF</text>
<rect x="421.2" y="117.4" width="9.5" height="9.6" fill="#ffd080" stroke="#8a8a8a" stroke-width="0.8"/>
<circle cx="425.9" cy="122.2" r="0.95" fill="#000"/>
<rect x="421.2" y="127.0" width="9.5" height="9.6" fill="#ccccff" stroke="#8a8a8a" stroke-width="0.8"/>
<circle cx="425.9" cy="131.8" r="0.95" fill="#000"/>
<text x="381.4" y="126.5" font-size="10.6" >LUHLB</text>
<text x="381.4" y="138.5" font-size="10.6" >LUHLS</text>
<rect x="444.2" y="125.2" width="9.7" height="9.6" fill="#44e000" stroke="#8a8a8a" stroke-width="0.8"/>
<circle cx="449.1" cy="130.0" r="0.95" fill="#000"/>
<rect x="444.2" y="134.8" width="9.7" height="9.6" fill="#ccccff" stroke="#8a8a8a" stroke-width="0.8"/>
<circle cx="449.1" cy="139.6" r="0.95" fill="#000"/>
<rect x="444.2" y="144.4" width="9.7" height="9.6" fill="#08f0b8" stroke="#8a8a8a" stroke-width="0.8"/>
<circle cx="449.1" cy="149.2" r="0.95" fill="#000"/>
<text x="405.9" y="152.3" font-size="10.6" >LSOUU</text>
<text x="405.9" y="163.5" font-size="10.6" >LSOUB</text>
<text x="405.9" y="175.7" font-size="10.6" >LSOUF</text>
<polygon points="479.70,137.15 480.73,140.48 484.22,140.43 481.36,142.44 482.49,145.74 479.70,143.65 476.91,145.74 478.04,142.44 475.18,140.43 478.67,140.48" fill="#ff00c5" stroke="#111" stroke-width="0.95" stroke-linejoin="miter"/>
<polygon points="479.70,147.25 480.73,150.58 484.22,150.53 481.36,152.54 482.49,155.84 479.70,153.75 476.91,155.84 478.04,152.54 475.18,150.53 478.67,150.58" fill="#6ad4ff" stroke="#111" stroke-width="0.95" stroke-linejoin="miter"/>
<text x="453.3" y="170.8" font-size="10.6" >LMISE</text>
<text x="453.3" y="182.7" font-size="10.6" >LMISB</text>
<path d="M492.1,149.4 L496.8,157.6 L487.4,157.6 Z" fill="#ccccff" stroke="#8a8a8a" stroke-width="0.8"/>
<circle cx="492.1" cy="154.8" r="1" fill="#000"/>
<text x="465.8" y="195.8" font-size="10.6" >HHRIB</text>
<text x="476.0" y="212.3" font-size="10.6" >HMOPS</text>
<text x="476.0" y="224.8" font-size="10.6" >HMOPB</text>
<path d="M522.6,153.4 L527.3,161.6 L517.9,161.6 Z" fill="#ccccff" stroke="#8a8a8a" stroke-width="0.8"/>
<circle cx="522.6" cy="158.8" r="1" fill="#000"/>
<rect x="517.5" y="161.8" width="9.5" height="9.8" fill="#ccccff" stroke="#8a8a8a" stroke-width="0.8"/>
<circle cx="522.2" cy="166.7" r="0.95" fill="#000"/>
<rect x="517.5" y="171.6" width="9.5" height="9.8" fill="#08f0b8" stroke="#8a8a8a" stroke-width="0.8"/>
<circle cx="522.2" cy="176.5" r="0.95" fill="#000"/>
<rect x="517.5" y="181.4" width="9.5" height="9.8" fill="#44e000" stroke="#8a8a8a" stroke-width="0.8"/>
<circle cx="522.2" cy="186.3" r="0.95" fill="#000"/>
<text x="531.6" y="181.9" font-size="10.6" >HRYCB</text>
<text x="531.6" y="193.8" font-size="10.6" >HKRYB</text>
<text x="531.6" y="205.3" font-size="10.6" >HKRYF</text>
<text x="531.6" y="217.0" font-size="10.6" >HKRYU</text>
<polygon points="598.30,230.85 599.33,234.18 602.82,234.13 599.96,236.14 601.09,239.44 598.30,237.35 595.51,239.44 596.64,236.14 593.78,234.13 597.27,234.18" fill="#ffd080" stroke="#111" stroke-width="0.95" stroke-linejoin="miter"/>
<rect x="592.5" y="243.2" width="9.6" height="9.6" fill="#ccccff" stroke="#8a8a8a" stroke-width="0.8"/>
<circle cx="597.3" cy="248.0" r="0.95" fill="#000"/>
<rect x="592.5" y="252.8" width="9.6" height="9.6" fill="#08f0b8" stroke="#8a8a8a" stroke-width="0.8"/>
<circle cx="597.3" cy="257.6" r="0.95" fill="#000"/>
<rect x="592.5" y="262.4" width="9.6" height="9.6" fill="#44e000" stroke="#8a8a8a" stroke-width="0.8"/>
<circle cx="597.3" cy="267.2" r="0.95" fill="#000"/>
<text x="550.7" y="241.8" font-size="10.6" >HUDLS</text>
<text x="550.7" y="252.0" font-size="10.6" >HUDLB</text>
<text x="550.7" y="263.2" font-size="10.6" >HLUDF</text>
<text x="550.7" y="273.9" font-size="10.6" >HLUDU</text>
<polygon points="613.80,246.35 614.83,249.68 618.32,249.63 615.46,251.64 616.59,254.94 613.80,252.85 611.01,254.94 612.14,251.64 609.28,249.63 612.77,249.68" fill="#ffd080" stroke="#111" stroke-width="0.95" stroke-linejoin="miter"/>
<polygon points="613.80,256.65 614.83,259.98 618.32,259.93 615.46,261.94 616.59,265.24 613.80,263.15 611.01,265.24 612.14,261.94 609.28,259.93 612.77,259.98" fill="#6ad4ff" stroke="#111" stroke-width="0.95" stroke-linejoin="miter"/>
<polygon points="613.80,265.95 614.83,269.28 618.32,269.23 615.46,271.24 616.59,274.54 613.80,272.45 611.01,274.54 612.14,271.24 609.28,269.23 612.77,269.28" fill="#ff00c5" stroke="#111" stroke-width="0.95" stroke-linejoin="miter"/>
<text x="610.1" y="287.0" font-size="10.6" >HLUUS</text>
<text x="610.1" y="298.8" font-size="10.6" >HLUDB</text>
<text x="610.1" y="309.5" font-size="10.6" >HUDLE</text>
<rect x="517.4" y="247.3" width="9.5" height="9.7" fill="#ccccff" stroke="#8a8a8a" stroke-width="0.8"/>
<circle cx="522.1" cy="252.2" r="0.95" fill="#000"/>
<rect x="517.4" y="257.0" width="9.5" height="9.7" fill="#44e000" stroke="#8a8a8a" stroke-width="0.8"/>
<circle cx="522.1" cy="261.9" r="0.95" fill="#000"/>
<rect x="517.4" y="266.7" width="9.5" height="9.7" fill="#08f0b8" stroke="#8a8a8a" stroke-width="0.8"/>
<circle cx="522.1" cy="271.6" r="0.95" fill="#000"/>
<text x="473.6" y="253.5" font-size="10.6" >HHKOB</text>
<text x="473.6" y="265.7" font-size="10.6" >HHKOU</text>
<text x="473.6" y="277.4" font-size="10.6" >HHKOF</text>
<polygon points="715.50,251.35 716.53,254.68 720.02,254.63 717.16,256.64 718.29,259.94 715.50,257.85 712.71,259.94 713.84,256.64 710.98,254.63 714.47,254.68" fill="#6ad4ff" stroke="#111" stroke-width="0.95" stroke-linejoin="miter"/>
<text x="674.7" y="271.9" font-size="10.6" >MUVDB</text>
<text x="30.0" y="270.2" font-size="10.6" >KLAZB</text>
<text x="30.0" y="281.4" font-size="10.6" >KLAZS</text>
<polygon points="74.40,272.15 75.43,275.48 78.92,275.43 76.06,277.44 77.19,280.74 74.40,278.65 71.61,280.74 72.74,277.44 69.88,275.43 73.37,275.48" fill="#6ad4ff" stroke="#111" stroke-width="0.95" stroke-linejoin="miter"/>
<polygon points="74.00,282.25 75.03,285.58 78.52,285.53 75.66,287.54 76.79,290.84 74.00,288.75 71.21,290.84 72.34,287.54 69.48,285.53 72.97,285.58" fill="#ffd080" stroke="#111" stroke-width="0.95" stroke-linejoin="miter"/>
<circle cx="97.0" cy="272.8" r="4.4" fill="#ccccff" stroke="#8a8a8a" stroke-width="0.8"/>
<circle cx="97.0" cy="272.8" r="1" fill="#000"/>
<circle cx="97.0" cy="282.8" r="4.4" fill="#ffd080" stroke="#8a8a8a" stroke-width="0.8"/>
<circle cx="97.0" cy="282.8" r="1" fill="#000"/>
<text x="106.0" y="270.2" font-size="10.6" >KPB1B</text>
<text x="106.0" y="281.4" font-size="10.6" >KPB2S</text>
<circle cx="80.4" cy="288.2" r="4.4" fill="#ffd080" stroke="#8a8a8a" stroke-width="0.8"/>
<circle cx="80.4" cy="288.2" r="1" fill="#000"/>
<circle cx="80.4" cy="297.6" r="4.4" fill="#ccccff" stroke="#8a8a8a" stroke-width="0.8"/>
<circle cx="80.4" cy="297.6" r="1" fill="#000"/>
<text x="86.5" y="299.0" font-size="10.6" >KLY2S</text>
<text x="86.5" y="310.8" font-size="10.6" >KLY1B</text>
<path d="M321.1,271.5 L325.8,279.7 L316.4,279.7 Z" fill="#ccccff" stroke="#8a8a8a" stroke-width="0.8"/>
<circle cx="321.1" cy="276.9" r="1" fill="#000"/>
<text x="281.5" y="267.1" font-size="10.6" >APDBB</text>
<circle cx="374.6" cy="286.3" r="4.5" fill="#ff00c5" stroke="#8a8a8a" stroke-width="0.8"/>
<path d="M371.5,283.2 L377.7,289.4 M377.7,283.2 L371.5,289.4" stroke="#000" stroke-width="1.25" fill="none"/>
<circle cx="374.6" cy="296.6" r="4.5" fill="#ccccff" stroke="#8a8a8a" stroke-width="0.8"/>
<path d="M371.5,293.5 L377.7,299.7 M377.7,293.5 L371.5,299.7" stroke="#000" stroke-width="1.25" fill="none"/>
<circle cx="374.6" cy="306.6" r="4.5" fill="#ffd080" stroke="#8a8a8a" stroke-width="0.8"/>
<path d="M371.5,303.5 L377.7,309.7 M377.7,303.5 L371.5,309.7" stroke="#000" stroke-width="1.25" fill="none"/>
<text x="381.7" y="289.2" font-size="10.6" >SLESE</text>
<text x="381.7" y="301.1" font-size="10.6" >SLESB</text>
<text x="381.7" y="312.8" font-size="10.6" >SLESS</text>
<rect x="323.3" y="294.4" width="9.6" height="9.6" fill="#44e000" stroke="#8a8a8a" stroke-width="0.8"/>
<circle cx="328.1" cy="299.2" r="0.95" fill="#000"/>
<rect x="323.3" y="303.9" width="9.6" height="9.6" fill="#ccccff" stroke="#8a8a8a" stroke-width="0.8"/>
<circle cx="328.1" cy="308.7" r="0.95" fill="#000"/>
<rect x="323.3" y="313.5" width="9.6" height="9.6" fill="#08f0b8" stroke="#8a8a8a" stroke-width="0.8"/>
<circle cx="328.1" cy="318.3" r="0.95" fill="#000"/>
<text x="279.1" y="307.0" font-size="10.6" >ALIBU</text>
<text x="279.1" y="318.8" font-size="10.6" >ALIBB</text>
<text x="279.1" y="330.1" font-size="10.6" >ALIBF</text>
<polygon points="342.50,317.75 343.53,321.08 347.02,321.03 344.16,323.04 345.29,326.34 342.50,324.25 339.71,326.34 340.84,323.04 337.98,321.03 341.47,321.08" fill="#ccff66" stroke="#111" stroke-width="0.95" stroke-linejoin="miter"/>
<polygon points="342.50,327.55 343.53,330.88 347.02,330.83 344.16,332.84 345.29,336.14 342.50,334.05 339.71,336.14 340.84,332.84 337.98,330.83 341.47,330.88" fill="#6ad4ff" stroke="#111" stroke-width="0.95" stroke-linejoin="miter"/>
<text x="349.6" y="327.5" font-size="10.6" >SBRER</text>
<text x="349.6" y="339.2" font-size="10.6" >SBREB</text>
<polygon points="105.30,338.75 106.33,342.08 109.82,342.03 106.96,344.04 108.09,347.34 105.30,345.25 102.51,347.34 103.64,344.04 100.78,342.03 104.27,342.08" fill="#6ad4ff" stroke="#111" stroke-width="0.95" stroke-linejoin="miter"/>
<polygon points="105.30,348.25 106.33,351.58 109.82,351.53 106.96,353.54 108.09,356.84 105.30,354.75 102.51,356.84 103.64,353.54 100.78,351.53 104.27,351.58" fill="#a83800" stroke="#111" stroke-width="0.95" stroke-linejoin="miter"/>
<text x="114.0" y="346.7" font-size="10.6" >PBENB</text>
<text x="114.0" y="358.0" font-size="10.6" >PBENI</text>
<rect x="73.9" y="363.1" width="10.0" height="9.8" fill="#44e000" stroke="#8a8a8a" stroke-width="0.8"/>
<circle cx="78.9" cy="368.0" r="0.95" fill="#000"/>
<rect x="73.9" y="373.0" width="10.0" height="9.8" fill="#ccccff" stroke="#8a8a8a" stroke-width="0.8"/>
<circle cx="78.9" cy="377.9" r="0.95" fill="#000"/>
<rect x="73.9" y="382.8" width="10.0" height="9.8" fill="#08f0b8" stroke="#8a8a8a" stroke-width="0.8"/>
<circle cx="78.9" cy="387.7" r="0.95" fill="#000"/>
<text x="88.2" y="371.8" font-size="10.6" >PPRMU</text>
<text x="88.2" y="383.8" font-size="10.6" >PPRMB</text>
<text x="88.2" y="395.6" font-size="10.6" >PPRMF</text>
<circle cx="246.3" cy="364.4" r="4.4" fill="#ccccff" stroke="#8a8a8a" stroke-width="0.8"/>
<circle cx="246.3" cy="364.4" r="1" fill="#000"/>
<circle cx="246.3" cy="374.4" r="4.4" fill="#ffd080" stroke="#8a8a8a" stroke-width="0.8"/>
<circle cx="246.3" cy="374.4" r="1" fill="#000"/>
<text x="253.5" y="369.2" font-size="10.6" >SLI1B</text>
<text x="253.5" y="379.2" font-size="10.6" >SLI2S</text>
<text x="482.3" y="319.0" font-size="10.6" >EPOMB</text>
<text x="482.3" y="330.9" font-size="10.6" >EPOMS</text>
<circle cx="513.1" cy="336.3" r="4.4" fill="#ccccff" stroke="#8a8a8a" stroke-width="0.8"/>
<circle cx="513.1" cy="336.3" r="1" fill="#000"/>
<circle cx="513.1" cy="345.8" r="4.4" fill="#ffd080" stroke="#8a8a8a" stroke-width="0.8"/>
<circle cx="513.1" cy="345.8" r="1" fill="#000"/>
<rect x="545.7" y="333.0" width="9.7" height="9.8" fill="#08f0b8" stroke="#8a8a8a" stroke-width="0.8"/>
<circle cx="550.6" cy="337.9" r="0.95" fill="#000"/>
<rect x="545.7" y="342.9" width="9.7" height="9.8" fill="#ccccff" stroke="#8a8a8a" stroke-width="0.8"/>
<circle cx="550.6" cy="347.8" r="0.95" fill="#000"/>
<rect x="545.7" y="352.7" width="9.7" height="9.8" fill="#44e000" stroke="#8a8a8a" stroke-width="0.8"/>
<circle cx="550.6" cy="357.6" r="0.95" fill="#000"/>
<text x="562.0" y="341.7" font-size="10.6" >ESVRF</text>
<text x="562.0" y="351.9" font-size="10.6" >ESVRB</text>
<text x="562.0" y="363.0" font-size="10.6" >ESVRU</text>
<rect x="757.1" y="319.0" width="9.5" height="9.7" fill="#08f0b8" stroke="#8a8a8a" stroke-width="0.8"/>
<circle cx="761.9" cy="323.9" r="0.95" fill="#000"/>
<rect x="757.1" y="328.7" width="9.5" height="9.7" fill="#ccccff" stroke="#8a8a8a" stroke-width="0.8"/>
<circle cx="761.9" cy="333.6" r="0.95" fill="#000"/>
<rect x="757.1" y="338.4" width="9.5" height="9.7" fill="#44e000" stroke="#8a8a8a" stroke-width="0.8"/>
<circle cx="761.9" cy="343.2" r="0.95" fill="#000"/>
<text x="771.4" y="320.8" font-size="10.6" >TCERF</text>
<text x="771.4" y="331.7" font-size="10.6" >TCERB</text>
<text x="771.4" y="343.5" font-size="10.6" >TCERU</text>
<rect x="843.1" y="315.2" width="9.7" height="9.7" fill="#ccccff" stroke="#8a8a8a" stroke-width="0.8"/>
<circle cx="848.0" cy="320.1" r="0.95" fill="#000"/>
<rect x="843.1" y="324.9" width="9.7" height="9.7" fill="#44e000" stroke="#8a8a8a" stroke-width="0.8"/>
<circle cx="848.0" cy="329.8" r="0.95" fill="#000"/>
<rect x="843.1" y="334.6" width="9.7" height="9.7" fill="#08f0b8" stroke="#8a8a8a" stroke-width="0.8"/>
<circle cx="848.0" cy="339.4" r="0.95" fill="#000"/>
<text x="858.5" y="323.4" font-size="10.6" >TOPOB</text>
<text x="858.5" y="334.2" font-size="10.6" >TOPOU</text>
<text x="858.5" y="344.5" font-size="10.6" >TOPOF</text>
<polygon points="437.70,357.55 438.73,360.88 442.22,360.83 439.36,362.84 440.49,366.14 437.70,364.05 434.91,366.14 436.04,362.84 433.18,360.83 436.67,360.88" fill="#6ad4ff" stroke="#111" stroke-width="0.95" stroke-linejoin="miter"/>
<polygon points="437.70,367.75 438.73,371.08 442.22,371.03 439.36,373.04 440.49,376.34 437.70,374.25 434.91,376.34 436.04,373.04 433.18,371.03 436.67,371.08" fill="#ffd080" stroke="#111" stroke-width="0.95" stroke-linejoin="miter"/>
<text x="394.6" y="367.2" font-size="10.6" >JZELB</text>
<text x="394.6" y="378.0" font-size="10.6" >JZELS</text>
<circle cx="454.0" cy="370.1" r="4.4" fill="#ccccff" stroke="#8a8a8a" stroke-width="0.8"/>
<circle cx="454.0" cy="370.1" r="1" fill="#000"/>
<circle cx="454.0" cy="380.2" r="4.4" fill="#ffd080" stroke="#8a8a8a" stroke-width="0.8"/>
<circle cx="454.0" cy="380.2" r="1" fill="#000"/>
<text x="462.8" y="374.0" font-size="10.6" >JLKVB</text>
<text x="462.8" y="384.1" font-size="10.6" >JLKVS</text>
<rect x="412.2" y="389.7" width="9.6" height="9.6" fill="#ffff00" stroke="#8a8a8a" stroke-width="0.8"/>
<circle cx="417.0" cy="394.5" r="0.95" fill="#000"/>
<rect x="412.2" y="399.3" width="9.6" height="9.6" fill="#ccccff" stroke="#8a8a8a" stroke-width="0.8"/>
<circle cx="417.0" cy="404.1" r="0.95" fill="#000"/>
<rect x="412.2" y="408.9" width="9.6" height="9.6" fill="#08f0b8" stroke="#8a8a8a" stroke-width="0.8"/>
<circle cx="417.0" cy="413.8" r="0.95" fill="#000"/>
<rect x="412.2" y="418.6" width="9.6" height="9.6" fill="#ffd080" stroke="#8a8a8a" stroke-width="0.8"/>
<circle cx="417.0" cy="423.4" r="0.95" fill="#000"/>
<rect x="412.2" y="428.2" width="9.6" height="9.6" fill="#44e000" stroke="#8a8a8a" stroke-width="0.8"/>
<circle cx="417.0" cy="433.0" r="0.95" fill="#000"/>
<text x="425.6" y="401.1" font-size="10.6" >JKOSY</text>
<text x="425.6" y="411.9" font-size="10.6" >JKOSB</text>
<text x="425.6" y="421.9" font-size="10.6" >JKOSF</text>
<text x="425.6" y="433.2" font-size="10.6" >JKOSS</text>
<text x="425.6" y="444.4" font-size="10.6" >JKOSU</text>
<circle cx="405.2" cy="402.0" r="4.4" fill="#ffd080" stroke="#8a8a8a" stroke-width="0.8"/>
<circle cx="405.2" cy="402.0" r="1" fill="#000"/>
<circle cx="405.2" cy="412.2" r="4.4" fill="#ccccff" stroke="#8a8a8a" stroke-width="0.8"/>
<circle cx="405.2" cy="412.2" r="1" fill="#000"/>
<text x="359.6" y="410.1" font-size="10.6" >JSALS</text>
<text x="359.6" y="420.7" font-size="10.6" >JSALB</text>
<rect x="236.5" y="410.5" width="9.9" height="9.8" fill="#44e000" stroke="#8a8a8a" stroke-width="0.8"/>
<circle cx="241.4" cy="415.4" r="0.95" fill="#000"/>
<rect x="236.5" y="420.2" width="9.9" height="9.8" fill="#ccccff" stroke="#8a8a8a" stroke-width="0.8"/>
<circle cx="241.4" cy="425.1" r="0.95" fill="#000"/>
<rect x="236.5" y="430.0" width="9.9" height="9.8" fill="#08f0b8" stroke="#8a8a8a" stroke-width="0.8"/>
<circle cx="241.4" cy="434.9" r="0.95" fill="#000"/>
<text x="250.6" y="420.8" font-size="10.6" >CKOCU</text>
<text x="250.6" y="432.0" font-size="10.6" >CKOCB</text>
<text x="250.6" y="442.9" font-size="10.6" >CKOCF</text>
<text x="858.2" y="368.5" font-size="10.6" >TBKRF</text>
<text x="858.2" y="379.6" font-size="10.6" >TBKRB</text>
<text x="858.2" y="390.6" font-size="10.6" >TBKRU</text>
<rect x="899.7" y="373.3" width="9.5" height="9.5" fill="#08f0b8" stroke="#8a8a8a" stroke-width="0.8"/>
<circle cx="904.5" cy="378.1" r="0.95" fill="#000"/>
<rect x="899.7" y="382.8" width="9.5" height="9.5" fill="#ccccff" stroke="#8a8a8a" stroke-width="0.8"/>
<circle cx="904.5" cy="387.6" r="0.95" fill="#000"/>
<rect x="899.7" y="392.3" width="9.5" height="9.5" fill="#44e000" stroke="#8a8a8a" stroke-width="0.8"/>
<circle cx="904.5" cy="397.1" r="0.95" fill="#000"/>
<text x="821.0" y="396.5" font-size="10.6" >TMARB</text>
<polygon points="865.30,394.75 866.33,398.08 869.82,398.03 866.96,400.04 868.09,403.34 865.30,401.25 862.51,403.34 863.64,400.04 860.78,398.03 864.27,398.08" fill="#6ad4ff" stroke="#111" stroke-width="0.95" stroke-linejoin="miter"/>
<text x="829.6" y="416.4" font-size="10.6" >TCRVS</text>
<text x="829.6" y="428.5" font-size="10.6" >TCRVB</text>
<polygon points="875.60,405.45 876.63,408.78 880.12,408.73 877.26,410.74 878.39,414.04 875.60,411.95 872.81,414.04 873.94,410.74 871.08,408.73 874.57,408.78" fill="#ffd080" stroke="#111" stroke-width="0.95" stroke-linejoin="miter"/>
<polygon points="885.40,404.25 886.43,407.58 889.92,407.53 887.06,409.54 888.19,412.84 885.40,410.75 882.61,412.84 883.74,409.54 880.88,407.53 884.37,407.58" fill="#ffd080" stroke="#111" stroke-width="0.95" stroke-linejoin="miter"/>
<polygon points="875.60,415.05 876.63,418.38 880.12,418.33 877.26,420.34 878.39,423.64 875.60,421.55 872.81,423.64 873.94,420.34 871.08,418.33 874.57,418.38" fill="#6ad4ff" stroke="#111" stroke-width="0.95" stroke-linejoin="miter"/>
<polygon points="885.40,414.15 886.43,417.48 889.92,417.43 887.06,419.44 888.19,422.74 885.40,420.65 882.61,422.74 883.74,419.44 880.88,417.43 884.37,417.48" fill="#6ad4ff" stroke="#111" stroke-width="0.95" stroke-linejoin="miter"/>
<polygon points="892.50,410.15 893.53,413.48 897.02,413.43 894.16,415.44 895.29,418.74 892.50,416.65 889.71,418.74 890.84,415.44 887.98,413.43 891.47,413.48" fill="#6ad4ff" stroke="#111" stroke-width="0.95" stroke-linejoin="miter"/>
<text x="900.2" y="427.7" font-size="10.6" >TCRKB</text>
<circle cx="871.3" cy="434.6" r="3.1" fill="#ff0000"/>
<path d="M877.7,431.6 A3,3 0 0 0 877.7,437.6 Z" fill="#ff0000"/>
<circle cx="884.6" cy="434.6" r="3.1" fill="#ff0000"/>
<path d="M871.6,443.4 L874.3,440.6 L877.1,442.8 L881.5,440.6 L883.7,443.4" stroke="#1e80e0" stroke-width="2.2" fill="none" stroke-linejoin="round"/>
<text x="868.2" y="450.8" font-size="5.1" font-weight="bold">ČHMÚ</text>
<path d="M884.3,425.2 L887,442.1" stroke="#222" stroke-width="0.8" fill="none"/>
<text x="874.3" y="452.7" font-size="10.6" >TKLES</text>
<text x="873.7" y="465.8" font-size="10.6" >TKLEB</text>
<text x="138.4" y="460.8" font-size="10.6" >PCJ1B</text>
<text x="153.0" y="472.6" font-size="10.6" >PCJ3S</text>
<text x="165.0" y="485.8" font-size="10.6" >PCJ2S</text>
<circle cx="144.7" cy="470.5" r="4.4" fill="#ccccff" stroke="#a0a0d8" stroke-width="0.8"/>
<circle cx="144.7" cy="470.5" r="2.0" fill="none" stroke="#666" stroke-width="0.7"/>
<circle cx="147.7" cy="477.9" r="4.4" fill="#ffd080" stroke="#d8a850" stroke-width="0.8"/>
<circle cx="147.7" cy="477.9" r="2.0" fill="none" stroke="#666" stroke-width="0.7"/>
<circle cx="156.8" cy="482.3" r="4.4" fill="#ffd080" stroke="#d8a850" stroke-width="0.8"/>
<circle cx="156.8" cy="482.3" r="2.0" fill="none" stroke="#666" stroke-width="0.7"/>
<polygon points="306.00,463.25 307.03,466.58 310.52,466.53 307.66,468.54 308.79,471.84 306.00,469.75 303.21,471.84 304.34,468.54 301.48,466.53 304.97,466.58" fill="#ff00c5" stroke="#111" stroke-width="0.95" stroke-linejoin="miter"/>
<polygon points="306.00,473.25 307.03,476.58 310.52,476.53 307.66,478.54 308.79,481.84 306.00,479.75 303.21,481.84 304.34,478.54 301.48,476.53 304.97,476.58" fill="#6ad4ff" stroke="#111" stroke-width="0.95" stroke-linejoin="miter"/>
<text x="312.7" y="472.0" font-size="10.6" >CKAME</text>
<text x="312.7" y="483.2" font-size="10.6" >CKAMB</text>
<polygon points="504.80,456.05 505.83,459.38 509.32,459.33 506.46,461.34 507.59,464.64 504.80,462.55 502.01,464.64 503.14,461.34 500.28,459.33 503.77,459.38" fill="#ffd080" stroke="#111" stroke-width="0.95" stroke-linejoin="miter"/>
<polygon points="504.80,466.05 505.83,469.38 509.32,469.33 506.46,471.34 507.59,474.64 504.80,472.55 502.01,474.64 503.14,471.34 500.28,469.33 503.77,469.38" fill="#6ad4ff" stroke="#111" stroke-width="0.95" stroke-linejoin="miter"/>
<text x="511.8" y="465.2" font-size="10.6" >JNOBS</text>
<text x="511.8" y="477.0" font-size="10.6" >JNOBB</text>
<polygon points="728.30,483.15 729.33,486.48 732.82,486.43 729.96,488.44 731.09,491.74 728.30,489.65 725.51,491.74 726.64,488.44 723.78,486.43 727.27,486.48" fill="#6ad4ff" stroke="#111" stroke-width="0.95" stroke-linejoin="miter"/>
<polygon points="728.30,493.65 729.33,496.98 732.82,496.93 729.96,498.94 731.09,502.24 728.30,500.15 725.51,502.24 726.64,498.94 723.78,496.93 727.27,496.98" fill="#ccff66" stroke="#111" stroke-width="0.95" stroke-linejoin="miter"/>
<text x="735.8" y="493.4" font-size="10.6" >ZBUCB</text>
<text x="735.8" y="505.0" font-size="10.6" >ZBUCR</text>
<polygon points="402.70,488.15 403.73,491.48 407.22,491.43 404.36,493.44 405.49,496.74 402.70,494.65 399.91,496.74 401.04,493.44 398.18,491.43 401.67,491.48" fill="#ff00c5" stroke="#111" stroke-width="0.95" stroke-linejoin="miter"/>
<polygon points="402.70,498.25 403.73,501.58 407.22,501.53 404.36,503.54 405.49,506.84 402.70,504.75 399.91,506.84 401.04,503.54 398.18,501.53 401.67,501.58" fill="#6ad4ff" stroke="#111" stroke-width="0.95" stroke-linejoin="miter"/>
<polygon points="402.70,508.25 403.73,511.58 407.22,511.53 404.36,513.54 405.49,516.84 402.70,514.75 399.91,516.84 401.04,513.54 398.18,511.53 401.67,511.58" fill="#ffd080" stroke="#111" stroke-width="0.95" stroke-linejoin="miter"/>
<text x="355.8" y="499.2" font-size="10.6" >CVOJE</text>
<text x="355.8" y="510.0" font-size="10.6" >CVOJB</text>
<text x="355.8" y="521.0" font-size="10.6" >CVOJS</text>
<circle cx="218.0" cy="501.6" r="4.5" fill="#ffd080" stroke="#8a8a8a" stroke-width="0.8"/>
<path d="M218.0,497.1 A4.5,4.5 0 0 1 218.0,506.1 Z" fill="#000"/>
<circle cx="218.0" cy="511.6" r="4.5" fill="#6ad4ff" stroke="#8a8a8a" stroke-width="0.8"/>
<path d="M218.0,507.1 A4.5,4.5 0 0 1 218.0,516.1 Z" fill="#000"/>
<circle cx="218.0" cy="521.6" r="4.5" fill="#ff00c5" stroke="#8a8a8a" stroke-width="0.8"/>
<path d="M218.0,517.1 A4.5,4.5 0 0 1 218.0,526.1 Z" fill="#000"/>
<text x="227.0" y="505.4" font-size="10.6" >CLIZS</text>
<text x="227.0" y="515.8" font-size="10.6" >CLIZB</text>
<text x="227.0" y="526.5" font-size="10.6" >CLIZE</text>
<text x="238.0" y="549.6" font-size="10.6" >CPL1B</text>
<text x="251.2" y="561.4" font-size="10.6" >CPL3S</text>
<text x="260.0" y="575.2" font-size="10.6" >CPL2S</text>
<circle cx="239.9" cy="558.5" r="4.4" fill="#ccccff" stroke="#a0a0d8" stroke-width="0.8"/>
<circle cx="239.9" cy="558.5" r="2.0" fill="none" stroke="#666" stroke-width="0.7"/>
<circle cx="241.6" cy="564.9" r="4.4" fill="#ffd080" stroke="#d8a850" stroke-width="0.8"/>
<circle cx="241.6" cy="564.9" r="2.0" fill="none" stroke="#666" stroke-width="0.7"/>
<circle cx="251.4" cy="568.2" r="4.4" fill="#ffd080" stroke="#d8a850" stroke-width="0.8"/>
<circle cx="251.4" cy="568.2" r="2.0" fill="none" stroke="#666" stroke-width="0.7"/>
<rect x="555.4" y="528.4" width="9.8" height="9.6" fill="#ccccff" stroke="#8a8a8a" stroke-width="0.8"/>
<circle cx="560.3" cy="533.2" r="0.95" fill="#000"/>
<rect x="555.4" y="538.0" width="9.8" height="9.6" fill="#44e000" stroke="#8a8a8a" stroke-width="0.8"/>
<circle cx="560.3" cy="542.8" r="0.95" fill="#000"/>
<rect x="555.4" y="547.6" width="9.8" height="9.6" fill="#08f0b8" stroke="#8a8a8a" stroke-width="0.8"/>
<circle cx="560.3" cy="552.4" r="0.95" fill="#000"/>
<text x="570.0" y="536.8" font-size="10.6" >BKUCB</text>
<text x="570.0" y="546.8" font-size="10.6" >BKUCU</text>
<text x="570.0" y="557.6" font-size="10.6" >BKUCF</text>
<text transform="translate(19.5,11.7) scale(1.065891472868217,1)" font-size="12.9" >ČHMÚ</text>
<text transform="translate(19.5,27.7) scale(1.065891472868217,1)" font-size="12.9" >ČGS</text>
<text transform="translate(19.5,44.0) scale(1.065891472868217,1)" font-size="12.9" >VÚV</text>
<text transform="translate(19.5,58.9) scale(1.065891472868217,1)" font-size="12.9" >VÚLHM</text>
<text transform="translate(19.5,74.7) scale(1.065891472868217,1)" font-size="12.9" >HBÚ AV ČR</text>
<text transform="translate(19.5,90.2) scale(1.065891472868217,1)" font-size="12.9" >ÚH AV ČR</text>
<text transform="translate(19.5,105.9) scale(1.065891472868217,1)" font-size="12.9" >GLÚ AV ČR</text>
<text transform="translate(19.5,121.8) scale(1.065891472868217,1)" font-size="12.9" >LfULG Germany</text>
<text transform="translate(19.5,136.9) scale(1.065891472868217,1)" font-size="12.9" >IMGW Poland</text>
<text transform="translate(19.5,152.7) scale(1.065891472868217,1)" font-size="12.9" >WIOS Poland</text>
<rect x="2.3" y="2.3" width="9.5" height="9.5" fill="#d2d2d2" stroke="#6e6e6e" stroke-width="0.8"/>
<circle cx="7.0" cy="7.0" r="0.95" fill="#000"/>
<circle cx="7.0" cy="22.7" r="4.6" fill="#d2d2d2" stroke="#6e6e6e" stroke-width="0.8"/>
<circle cx="7.0" cy="22.7" r="1" fill="#000"/>
<path d="M7.0,34.3 L11.8,42.7 L2.2,42.7 Z" fill="#d2d2d2" stroke="#6e6e6e" stroke-width="0.8"/>
<circle cx="7.0" cy="39.8" r="1" fill="#000"/>
<polygon points="7.00,49.60 8.12,52.66 11.37,52.78 8.81,54.79 9.70,57.92 7.00,56.10 4.30,57.92 5.19,54.79 2.63,52.78 5.88,52.66" fill="#fff" stroke="#333" stroke-width="0.95" stroke-linejoin="miter"/>
<circle cx="7" cy="69.5" r="4.6" fill="#d2d2d2" stroke="#6e6e6e" stroke-width="0.8"/><circle cx="7" cy="69.5" r="2.4" fill="none" stroke="#6e6e6e" stroke-width="0.8"/>
<circle cx="7.0" cy="85.3" r="4.6" fill="#d2d2d2" stroke="#8a8a8a" stroke-width="0.8"/>
<path d="M7.0,80.7 A4.6,4.6 0 0 1 7.0,89.9 Z" fill="#000"/>
<circle cx="7.0" cy="101.0" r="4.6" fill="#d2d2d2" stroke="#8a8a8a" stroke-width="0.8"/>
<path d="M3.9,97.9 L10.1,104.1 M10.1,97.9 L3.9,104.1" stroke="#000" stroke-width="1.25" fill="none"/>
<path d="M7.0,112.3 L11.9,120.9 L2.1,120.9 Z" fill="#d2d2d2" stroke="#6e6e6e" stroke-width="0.8"/>
<circle cx="7.0" cy="132.0" r="4.8" fill="#d2d2d2" stroke="#7a7a7a" stroke-width="0.6"/>
<path d="M2.55,130.33 L2.55,133.67 M5.38,127.50 L8.72,127.50 M5.55,127.44 L5.55,136.56 M2.49,130.50 L11.61,130.50 M8.55,127.44 L8.55,136.56 M2.49,133.50 L11.61,133.50 M11.55,130.33 L11.55,133.67 M5.38,136.50 L8.72,136.50 " stroke="#5a5a5a" stroke-width="0.7" fill="none"/>
<circle cx="7.0" cy="147.7" r="4.7" fill="#d2d2d2" stroke="#6a6a6a" stroke-width="0.6"/>
<path d="M7.0,143.0 L7.0,152.4 M2.3,147.7 L11.8,147.7" stroke="#555" stroke-width="0.7" fill="none"/>
<rect x="698" y="0.3" width="10.4" height="10.2" fill="#ccccff" stroke="#6a6a6a" stroke-width="1"/>
<text transform="translate(715.4,9.9) scale(1.073643410852713,1)" font-size="12.9" >B-Bulk (srážky s prašným spadem)</text>
<rect x="698" y="15.8" width="10.4" height="10.2" fill="#08f0b8" stroke="#6a6a6a" stroke-width="1"/>
<text transform="translate(715.4,25.4) scale(1.073643410852713,1)" font-size="12.9" >F-Čisté srážky - Autom. pluviokolektor</text>
<rect x="698" y="31.3" width="10.4" height="10.2" fill="#ffff00" stroke="#6a6a6a" stroke-width="1"/>
<text transform="translate(715.4,40.9) scale(1.073643410852713,1)" font-size="12.9" >Y-Srážky - denně slévaný vzorek</text>
<rect x="698" y="46.8" width="10.4" height="10.2" fill="#ffd080" stroke="#6a6a6a" stroke-width="1"/>
<text transform="translate(715.4,56.4) scale(1.073643410852713,1)" font-size="12.9" >S-Podkorunové srážky (smrk)</text>
<rect x="698" y="62.3" width="10.4" height="10.2" fill="#a83800" stroke="#6a6a6a" stroke-width="1"/>
<text transform="translate(715.4,71.9) scale(1.073643410852713,1)" font-size="12.9" >I-Podkorunové srážky (borovice)</text>
<rect x="698" y="77.8" width="10.4" height="10.2" fill="#ff0000" stroke="#6a6a6a" stroke-width="1"/>
<text transform="translate(715.4,87.4) scale(1.073643410852713,1)" font-size="12.9" >Q-Podkorunové srážky (bříza)</text>
<rect x="698" y="93.3" width="10.4" height="10.2" fill="#ccff66" stroke="#6a6a6a" stroke-width="1"/>
<text transform="translate(715.4,102.9) scale(1.073643410852713,1)" font-size="12.9" >R-Podkorunové srážky (dub)</text>
<rect x="698" y="108.8" width="10.4" height="10.2" fill="#ff00c5" stroke="#6a6a6a" stroke-width="1"/>
<text transform="translate(715.4,118.4) scale(1.073643410852713,1)" font-size="12.9" >E-Podkorunové srážky (buk)</text>
<rect x="698" y="124.3" width="10.4" height="10.2" fill="#44e000" stroke="#6a6a6a" stroke-width="1"/>
<text transform="translate(715.4,133.9) scale(1.073643410852713,1)" font-size="12.9" >U-Denní úhrny</text>
<text transform="translate(2.0,647.6) scale(1.0570652173913044,1)" font-size="18.4" >Staniční sítě sledování kvality atmosférických srážek a atmosférické depozice, 2009</text>
</svg>
</body></html>
